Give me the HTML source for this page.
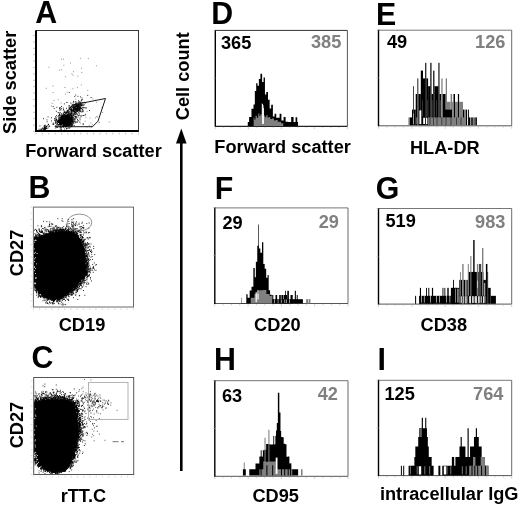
<!DOCTYPE html>
<html><head><meta charset="utf-8"><title>Figure</title>
<style>html,body{margin:0;padding:0;background:#fff}svg{display:block}</style>
</head><body>
<svg width="520" height="506" viewBox="0 0 520 506" font-family="Liberation Sans, Arial, Helvetica, sans-serif" font-weight="bold">
<rect width="520" height="506" fill="#fff"/>
<rect x="36" y="30.5" width="102.5" height="101.0" fill="none" stroke="#222" stroke-width="0.9"/>
<path d="M36 30.5V131.1H138.5" fill="none" stroke="#000" stroke-width="2"/>
<path d="M36.0 132.7v1.8M42.4 132.7v1.8M48.8 132.7v1.8M55.2 132.7v1.8M61.6 132.7v1.8M68.0 132.7v1.8M74.4 132.7v1.8M80.8 132.7v1.8M87.2 132.7v1.8M93.6 132.7v1.8M100.0 132.7v1.8M106.4 132.7v1.8M112.8 132.7v1.8M119.2 132.7v1.8M125.6 132.7v1.8M132.0 132.7v1.8M138.4 132.7v1.8M34.8 131.5h-1.8M34.8 125.1h-1.8M34.8 118.7h-1.8M34.8 112.3h-1.8M34.8 105.9h-1.8M34.8 99.5h-1.8M34.8 93.1h-1.8M34.8 86.7h-1.8M34.8 80.3h-1.8M34.8 73.9h-1.8M34.8 67.5h-1.8M34.8 61.1h-1.8M34.8 54.7h-1.8M34.8 48.3h-1.8M34.8 41.9h-1.8M34.8 35.5h-1.8" stroke="#aaa" stroke-width="0.7"/>
<path d="M81.2 68.3h0.8M87.9 58.7h0.8M77.0 119.6h0.8M64.9 76.7h0.8M78.6 107.9h0.8M61.2 108.5h0.8M48.5 67.2h0.8M83.2 102.7h0.8M92.5 98.9h0.8M85.4 114.2h0.8M65.2 94.1h0.8M60.7 103.0h0.8M76.9 87.6h0.8M64.7 125.8h0.8M86.1 108.1h0.8M59.7 125.1h0.8M75.4 99.1h0.8M72.1 115.2h0.8M72.5 75.1h0.8M52.5 86.1h0.8M68.1 113.0h0.8M72.5 88.8h0.8M64.5 87.5h0.8M53.6 100.5h0.8M63.5 65.3h0.8M57.8 99.7h0.8M73.4 102.1h0.8M80.9 85.0h0.8M73.2 71.7h0.8M73.7 125.8h0.8M67.1 102.4h0.8M71.5 73.9h0.8M45.8 88.3h0.8M70.1 63.1h0.8M79.9 58.4h0.8M62.9 59.2h0.8M77.5 76.1h0.8M51.1 106.1h0.8M69.7 107.6h0.8M66.9 92.2h0.8M74.8 111.8h0.8M70.9 104.1h0.8M95.9 65.8h0.8M51.7 103.4h0.8M61.0 108.6h0.8M70.3 114.0h0.8M61.3 69.8h0.8M61.0 59.1h0.8M52.7 92.5h0.8M58.6 115.3h0.8M87.4 90.3h0.8M59.3 70.2h0.8M102.3 112.6h0.8M81.9 99.9h0.8M65.6 122.8h0.8M78.9 103.2h0.8M81.4 72.6h0.8M83.9 115.6h0.8M96.4 116.5h0.8M76.1 117.2h0.8M86.7 126.9h0.8M98.4 130.1h0.8M69.5 119.9h0.8M79.9 123.2h0.8M86.6 111.4h0.8M96.0 102.3h0.8M83.3 115.5h0.8M75.9 118.0h0.8M91.3 126.1h0.8M89.6 118.1h0.8M88.8 125.4h0.8M82.2 124.1h0.8M94.9 117.8h0.8M98.8 122.1h0.8M68.8 119.0h0.8M90.8 127.2h0.8M82.6 109.0h0.8M81.0 100.1h0.8M85.6 117.3h0.8M98.8 122.9h0.8M82.9 123.8h0.8M80.8 112.4h0.8M69.6 120.2h0.8M82.7 111.8h0.8M84.7 121.2h0.8M73.2 111.2h0.8M81.1 108.9h0.8M90.5 123.0h0.8M101.5 107.7h0.8M81.4 106.1h0.8M108.8 122.0h0.8M96.9 117.1h0.8M95.3 100.2h0.8M92.1 124.7h0.8M86.2 107.8h0.8M77.5 113.3h0.8" stroke="#555" stroke-width="0.8" fill="none"/>
<path d="M71.3 125.1h0.9M63.8 119.5h0.9M65.5 119.2h0.9M66.8 123.3h0.9M62.6 121.1h0.9M65.4 119.6h0.9M65.4 124.7h0.9M59.3 122.6h0.9M69.0 122.6h0.9M67.5 119.3h0.9M63.2 122.1h0.9M64.8 121.8h0.9M67.2 122.7h0.9M64.5 123.7h0.9M64.6 123.6h0.9M60.3 121.4h0.9M67.3 122.5h0.9M65.8 117.9h0.9M66.4 122.4h0.9M60.1 122.7h0.9M71.2 119.6h0.9M65.9 118.8h0.9M64.0 120.7h0.9M72.5 117.5h0.9M65.2 121.7h0.9M60.3 121.7h0.9M64.0 118.5h0.9M57.4 121.2h0.9M69.1 123.3h0.9M63.9 123.5h0.9M62.8 123.4h0.9M69.2 120.3h0.9M59.6 120.2h0.9M67.3 119.8h0.9M58.2 122.5h0.9M63.1 126.8h0.9M61.2 124.5h0.9M70.5 124.6h0.9M71.6 123.9h0.9M64.2 116.8h0.9M68.3 120.2h0.9M64.8 119.7h0.9M67.4 123.8h0.9M62.8 125.1h0.9M59.4 119.4h0.9M59.1 121.1h0.9M66.7 122.1h0.9M73.3 119.3h0.9M66.3 119.2h0.9M63.6 119.2h0.9M72.1 122.8h0.9M66.2 118.5h0.9M65.8 123.6h0.9M66.3 121.0h0.9M64.9 122.7h0.9M64.3 124.7h0.9M60.4 119.3h0.9M67.2 118.7h0.9M65.1 121.9h0.9M69.6 118.1h0.9M64.1 119.0h0.9M58.7 120.8h0.9M65.1 121.2h0.9M71.3 117.5h0.9M64.1 119.9h0.9M62.3 122.4h0.9M61.2 124.3h0.9M61.7 116.0h0.9M64.3 124.1h0.9M61.3 123.1h0.9M70.6 117.9h0.9M64.4 117.2h0.9M65.8 121.8h0.9M70.4 119.6h0.9M70.7 121.0h0.9M64.7 123.0h0.9M66.6 119.8h0.9M68.0 121.1h0.9M64.7 122.0h0.9M59.2 123.2h0.9M67.7 125.1h0.9M68.5 124.9h0.9M66.9 121.3h0.9M62.2 120.3h0.9M64.7 126.7h0.9M63.3 122.5h0.9M64.4 121.9h0.9M69.9 117.9h0.9M70.8 122.5h0.9M67.7 118.8h0.9M67.3 119.6h0.9M67.8 117.4h0.9M65.4 119.5h0.9M65.1 121.0h0.9M63.0 117.2h0.9M65.2 118.6h0.9M73.3 120.3h0.9M68.4 117.6h0.9M64.2 117.7h0.9M63.7 118.8h0.9M62.4 117.4h0.9M66.7 122.3h0.9M66.8 118.3h0.9M60.3 122.9h0.9M67.1 123.0h0.9M63.4 117.9h0.9M70.4 120.7h0.9M65.9 119.6h0.9M71.4 117.8h0.9M63.8 120.0h0.9M64.4 120.2h0.9M66.4 122.5h0.9M69.1 123.2h0.9M67.4 118.0h0.9M61.1 119.9h0.9M66.0 122.1h0.9M65.5 123.7h0.9M63.9 114.8h0.9M63.1 124.1h0.9M71.5 120.2h0.9M64.0 124.7h0.9M62.4 119.9h0.9M67.6 118.7h0.9M65.9 120.9h0.9M65.1 123.7h0.9M68.1 120.8h0.9M67.1 114.9h0.9M66.7 122.5h0.9M68.8 116.7h0.9M66.4 118.3h0.9M63.2 118.0h0.9M64.1 116.3h0.9M63.6 117.7h0.9M66.1 118.3h0.9M61.6 119.4h0.9M59.0 120.9h0.9M65.7 120.0h0.9M60.7 117.3h0.9M58.6 120.6h0.9M66.7 123.2h0.9M62.9 123.3h0.9M67.1 121.1h0.9M63.5 122.4h0.9M61.5 123.2h0.9M61.0 124.4h0.9M63.6 125.1h0.9M64.4 120.0h0.9M62.5 120.2h0.9M64.4 124.5h0.9M60.0 124.9h0.9M65.5 124.6h0.9M59.1 115.2h0.9M64.7 120.3h0.9M67.8 112.6h0.9M69.2 122.5h0.9M71.4 120.7h0.9M60.0 121.1h0.9M68.1 120.4h0.9M69.6 123.9h0.9M68.8 119.9h0.9M62.1 123.5h0.9M66.8 122.1h0.9M71.9 121.5h0.9M60.2 122.1h0.9M67.1 121.0h0.9M69.3 117.9h0.9M63.0 122.7h0.9M67.4 122.5h0.9M61.7 120.6h0.9M62.6 122.7h0.9M62.5 123.1h0.9M66.1 117.6h0.9M65.1 120.5h0.9M68.7 119.6h0.9M62.1 118.7h0.9M64.9 121.6h0.9M68.8 118.6h0.9M67.4 119.6h0.9M60.8 121.6h0.9M67.7 121.6h0.9M63.7 121.7h0.9M66.7 126.3h0.9M66.5 119.5h0.9M69.7 121.3h0.9M65.8 117.8h0.9M58.9 122.2h0.9M60.6 123.9h0.9M68.0 123.7h0.9M64.5 119.2h0.9M69.4 120.0h0.9M66.4 123.9h0.9M62.8 120.7h0.9M69.2 123.1h0.9M62.6 118.5h0.9M58.2 124.5h0.9M72.6 123.1h0.9M58.7 122.2h0.9M67.6 118.7h0.9M68.7 120.3h0.9M65.9 121.2h0.9M59.5 121.7h0.9M69.0 120.4h0.9M60.4 120.4h0.9M60.7 121.4h0.9M64.1 124.3h0.9M68.2 115.7h0.9M66.5 117.3h0.9M68.2 116.8h0.9M63.8 119.1h0.9M64.8 116.5h0.9M61.4 122.3h0.9M64.3 121.1h0.9M67.5 120.1h0.9M64.4 119.1h0.9M67.1 121.1h0.9M63.4 121.3h0.9M63.3 121.7h0.9M65.5 119.0h0.9M64.7 122.4h0.9M67.5 117.1h0.9M66.0 123.9h0.9M71.5 112.9h0.9M64.6 119.3h0.9M64.6 117.8h0.9M61.8 122.9h0.9M65.5 117.1h0.9M67.8 125.3h0.9M62.8 117.0h0.9M65.2 125.9h0.9M67.9 121.8h0.9M65.0 120.9h0.9M63.6 122.0h0.9M68.8 126.2h0.9M65.7 123.0h0.9M66.8 115.2h0.9M69.5 123.6h0.9M69.4 121.2h0.9M64.2 116.8h0.9M63.6 122.8h0.9M66.4 117.7h0.9M64.9 121.3h0.9M58.8 121.6h0.9M69.9 119.0h0.9M65.5 122.4h0.9M68.0 118.2h0.9M61.3 121.4h0.9M69.9 119.3h0.9M63.3 120.4h0.9M65.0 125.6h0.9M60.5 121.3h0.9M64.8 118.1h0.9M64.6 120.5h0.9M64.8 118.9h0.9M66.9 120.8h0.9M65.6 121.2h0.9M68.8 120.9h0.9M63.8 121.1h0.9M61.9 119.6h0.9M65.3 121.9h0.9M67.6 123.4h0.9M69.8 119.1h0.9M68.2 120.6h0.9M59.2 121.2h0.9M66.7 123.9h0.9M70.5 123.3h0.9M65.6 119.0h0.9M63.6 121.0h0.9M66.5 117.0h0.9M63.6 118.5h0.9M67.6 120.8h0.9M65.4 122.4h0.9M70.3 123.0h0.9M67.1 120.0h0.9M62.9 117.5h0.9M67.5 121.7h0.9M68.7 120.3h0.9M63.4 121.9h0.9M63.9 121.3h0.9M57.3 122.9h0.9M68.6 122.3h0.9M63.3 123.0h0.9M58.0 119.9h0.9M59.2 123.5h0.9M64.6 119.6h0.9M68.1 120.9h0.9M65.1 125.5h0.9M67.1 121.6h0.9M61.5 118.0h0.9M60.7 124.7h0.9M68.5 123.2h0.9M67.1 123.6h0.9M65.3 121.3h0.9M69.9 121.5h0.9M62.1 120.3h0.9M63.9 119.1h0.9M69.0 124.5h0.9M71.8 119.7h0.9M65.4 119.6h0.9M71.3 119.5h0.9M63.3 125.5h0.9M66.6 123.0h0.9M64.8 119.9h0.9M59.8 120.9h0.9M66.3 122.0h0.9M68.7 122.9h0.9M64.9 116.8h0.9M65.2 123.1h0.9M70.3 120.1h0.9M61.0 119.2h0.9M60.2 120.0h0.9M63.1 122.9h0.9M61.2 125.3h0.9M70.1 121.0h0.9M66.5 122.2h0.9M62.4 118.9h0.9M63.2 122.1h0.9M75.4 122.5h0.9M63.3 117.2h0.9M62.7 119.6h0.9M66.5 122.7h0.9M67.6 116.3h0.9M66.2 119.8h0.9M62.2 122.4h0.9M61.3 116.7h0.9M67.5 119.7h0.9M65.2 120.9h0.9M59.7 123.2h0.9M69.5 117.5h0.9M68.1 123.5h0.9M64.6 121.6h0.9M64.5 123.8h0.9M66.2 123.7h0.9M63.0 121.7h0.9M60.7 122.2h0.9M66.5 116.4h0.9M60.4 117.6h0.9M66.8 118.2h0.9M60.4 120.1h0.9M65.1 123.1h0.9M64.9 116.4h0.9M71.6 119.8h0.9M61.7 117.6h0.9M60.4 117.1h0.9M63.1 124.6h0.9M61.5 121.2h0.9M63.3 125.0h0.9M66.9 123.7h0.9M68.1 118.4h0.9M71.2 116.0h0.9M62.8 126.1h0.9M74.6 119.5h0.9M72.3 117.7h0.9M64.7 122.6h0.9M57.4 121.4h0.9M65.1 119.1h0.9M65.7 119.9h0.9M57.4 121.5h0.9M65.7 121.0h0.9M64.7 122.7h0.9M62.7 120.0h0.9M67.6 119.9h0.9M68.9 122.2h0.9M63.7 121.6h0.9M66.2 123.5h0.9M63.1 120.3h0.9M62.6 120.7h0.9M65.7 117.9h0.9M67.2 124.5h0.9M63.4 117.4h0.9M57.7 121.6h0.9M67.5 118.5h0.9M59.8 121.8h0.9M65.8 122.6h0.9M71.6 116.5h0.9M65.3 120.3h0.9M61.2 116.6h0.9M60.3 124.5h0.9M69.5 119.5h0.9M65.3 116.9h0.9M67.3 119.0h0.9M68.6 124.0h0.9M65.2 124.5h0.9M64.3 124.0h0.9M62.1 119.0h0.9M54.6 120.8h0.9M60.1 125.1h0.9M65.2 119.0h0.9M64.8 120.0h0.9M66.8 118.4h0.9M65.0 117.9h0.9M66.0 123.8h0.9M68.2 122.3h0.9M62.3 122.0h0.9M64.4 122.3h0.9M59.8 123.6h0.9M68.8 124.4h0.9M65.5 120.8h0.9M67.1 119.9h0.9M70.8 118.1h0.9M69.2 123.4h0.9M65.2 119.5h0.9M68.2 117.0h0.9M60.4 120.3h0.9M66.9 120.8h0.9M65.9 122.9h0.9M59.7 123.5h0.9M70.1 118.8h0.9M62.9 118.9h0.9M67.8 119.9h0.9M63.9 117.8h0.9M68.9 120.4h0.9M70.0 121.8h0.9M62.5 121.0h0.9M60.0 117.0h0.9M64.9 117.8h0.9M68.4 123.9h0.9M64.1 118.3h0.9M63.3 122.7h0.9M67.1 122.3h0.9M55.7 120.3h0.9M63.1 118.4h0.9M60.6 121.5h0.9M66.4 118.6h0.9M62.8 120.5h0.9M61.5 121.2h0.9M64.2 119.1h0.9M60.3 120.4h0.9M65.4 120.0h0.9M63.0 117.8h0.9M64.1 120.4h0.9M62.9 119.3h0.9M68.6 116.1h0.9M65.0 120.0h0.9M67.2 120.0h0.9M67.1 119.2h0.9M62.6 115.8h0.9M67.4 122.7h0.9M66.6 122.5h0.9M66.5 122.4h0.9M64.0 121.7h0.9M63.9 117.7h0.9M68.1 121.0h0.9M73.0 118.2h0.9M62.5 126.4h0.9M67.3 119.4h0.9M64.1 122.5h0.9M68.1 116.8h0.9M66.9 117.8h0.9M69.1 119.3h0.9M55.6 122.9h0.9M63.3 122.2h0.9M61.9 121.6h0.9M65.0 116.2h0.9M62.9 123.7h0.9M63.2 118.6h0.9M67.8 124.7h0.9M72.1 125.2h0.9M55.5 123.2h0.9M64.3 123.3h0.9M66.5 117.6h0.9M65.4 127.2h0.9M64.2 121.4h0.9M60.7 123.5h0.9M62.1 118.8h0.9M67.9 120.5h0.9M69.2 117.7h0.9M65.7 120.2h0.9M62.5 120.9h0.9M65.7 121.4h0.9M64.6 124.3h0.9M67.3 121.9h0.9M65.8 121.4h0.9M63.2 121.0h0.9M66.1 125.8h0.9M61.3 119.5h0.9M68.3 123.7h0.9M69.5 115.8h0.9M61.3 118.8h0.9M66.9 121.8h0.9M61.9 120.5h0.9M69.2 128.2h0.9M68.6 127.1h0.9M64.6 117.0h0.9M68.9 118.0h0.9M63.9 120.5h0.9M63.1 125.2h0.9M63.4 123.7h0.9M64.9 121.6h0.9M64.3 117.3h0.9M65.9 118.7h0.9M63.2 114.2h0.9M68.1 116.9h0.9M69.0 121.7h0.9M63.7 122.8h0.9M60.4 117.7h0.9M67.9 121.0h0.9M69.4 124.7h0.9M64.8 121.2h0.9M60.9 120.2h0.9M66.3 122.3h0.9M70.7 121.9h0.9M58.8 121.2h0.9M67.1 119.4h0.9M64.3 119.8h0.9M62.4 121.1h0.9M67.1 119.4h0.9M60.9 124.3h0.9M66.4 123.0h0.9M70.0 123.4h0.9M66.0 125.9h0.9M62.3 124.9h0.9M59.2 124.6h0.9M60.9 121.9h0.9M59.0 120.6h0.9M71.0 126.4h0.9M64.5 119.2h0.9M61.7 119.4h0.9M60.9 118.8h0.9M61.7 121.5h0.9M64.2 121.9h0.9M60.9 123.5h0.9M71.3 120.0h0.9M62.8 116.6h0.9M62.7 121.7h0.9M66.5 123.2h0.9M70.5 120.7h0.9M70.0 120.3h0.9M63.7 122.3h0.9M66.3 124.4h0.9M65.9 120.6h0.9M67.3 117.2h0.9M66.3 119.4h0.9M62.1 120.5h0.9M61.0 116.5h0.9M66.0 122.7h0.9M61.3 119.0h0.9M70.2 121.9h0.9M65.5 121.3h0.9M61.8 120.2h0.9M64.3 124.9h0.9M63.6 119.5h0.9M64.9 119.1h0.9M68.7 121.4h0.9M60.3 123.1h0.9M58.9 121.0h0.9M66.6 118.3h0.9M64.8 122.6h0.9M66.0 122.3h0.9M67.0 125.9h0.9M64.8 120.3h0.9M68.2 121.2h0.9M62.3 119.5h0.9M65.6 117.1h0.9M62.5 121.1h0.9M61.4 123.1h0.9M67.6 118.2h0.9M67.4 119.0h0.9M58.6 118.1h0.9M61.5 124.3h0.9M66.4 119.2h0.9M69.1 122.1h0.9M63.1 118.7h0.9M64.8 121.0h0.9M60.5 119.4h0.9M74.2 114.6h0.9M67.1 120.9h0.9M68.5 122.0h0.9M67.7 115.5h0.9M68.7 120.2h0.9M67.5 119.6h0.9M64.2 118.1h0.9M68.0 120.1h0.9M65.7 115.9h0.9M69.9 121.3h0.9M62.8 123.9h0.9M63.5 117.7h0.9M67.7 120.6h0.9M69.9 124.2h0.9M65.9 121.1h0.9M62.9 119.6h0.9M65.0 118.5h0.9M63.7 121.3h0.9M72.0 120.2h0.9M68.5 122.3h0.9M69.8 116.8h0.9M66.5 123.5h0.9M63.5 119.9h0.9M69.5 122.3h0.9M71.2 118.8h0.9M67.4 117.5h0.9M65.3 119.4h0.9M69.2 118.3h0.9M64.1 119.9h0.9M68.1 122.3h0.9M62.9 123.6h0.9M62.0 121.4h0.9M67.4 119.4h0.9M66.6 119.6h0.9M72.1 122.0h0.9M64.4 123.7h0.9M65.5 120.0h0.9M61.4 120.6h0.9M58.9 119.2h0.9M59.2 121.5h0.9M67.0 123.1h0.9M61.3 113.7h0.9M69.3 121.3h0.9M70.4 119.2h0.9M64.4 115.0h0.9M71.2 121.4h0.9M66.2 120.5h0.9M69.3 121.6h0.9M64.6 117.4h0.9M68.8 126.0h0.9M62.1 121.2h0.9M67.6 119.9h0.9M63.8 124.7h0.9M64.9 122.4h0.9M67.6 122.8h0.9M66.0 123.7h0.9M65.1 115.6h0.9M67.9 124.9h0.9M68.2 119.8h0.9M60.6 121.7h0.9M67.4 123.0h0.9M67.7 118.9h0.9M62.8 121.7h0.9M66.8 122.7h0.9M60.8 120.9h0.9M70.4 121.9h0.9M64.6 116.8h0.9M65.1 117.8h0.9M69.6 117.8h0.9M64.9 121.7h0.9M61.7 121.6h0.9M63.4 120.5h0.9M60.5 120.8h0.9M64.7 123.3h0.9M69.0 122.5h0.9M66.2 117.9h0.9M68.5 123.2h0.9M61.8 120.9h0.9M62.3 123.0h0.9M63.8 115.9h0.9M67.4 116.8h0.9M66.6 122.2h0.9M65.3 116.3h0.9M67.6 121.7h0.9M64.9 121.7h0.9M65.3 121.2h0.9M70.0 121.5h0.9M63.3 121.5h0.9M66.0 121.9h0.9M71.0 119.6h0.9M65.8 120.7h0.9M67.9 128.0h0.9M63.3 123.7h0.9M72.2 122.1h0.9M57.5 122.1h0.9M61.4 119.1h0.9M61.7 121.5h0.9M71.1 120.0h0.9M66.6 123.1h0.9M64.5 118.5h0.9M60.9 115.1h0.9M66.7 119.4h0.9M65.8 122.5h0.9M63.0 127.0h0.9M60.2 123.5h0.9M61.5 118.5h0.9M66.1 120.2h0.9M66.5 118.4h0.9M65.7 120.3h0.9M64.9 118.6h0.9M59.2 116.9h0.9M65.6 121.9h0.9M61.8 121.4h0.9M65.5 120.4h0.9M67.0 121.6h0.9M63.0 126.0h0.9M61.8 121.2h0.9M68.9 119.7h0.9M66.6 122.9h0.9M63.2 116.8h0.9M54.9 123.1h0.9M65.2 118.9h0.9M67.6 118.7h0.9M69.3 120.9h0.9M63.0 125.1h0.9M63.1 119.0h0.9M63.8 123.2h0.9M68.3 121.6h0.9M61.3 117.5h0.9M65.0 123.1h0.9M62.2 118.9h0.9M66.3 117.1h0.9M60.0 119.0h0.9M66.7 118.9h0.9M63.7 122.3h0.9M64.6 119.0h0.9M67.2 124.5h0.9M69.4 121.2h0.9M59.5 119.2h0.9M68.9 118.6h0.9M67.4 121.3h0.9M64.4 115.8h0.9M70.3 115.2h0.9M66.1 118.6h0.9M69.9 122.2h0.9M63.3 121.3h0.9M62.4 121.0h0.9M69.7 120.1h0.9M73.0 115.1h0.9M67.6 119.9h0.9M68.5 116.3h0.9M63.7 122.9h0.9M60.8 120.9h0.9M64.6 120.6h0.9M70.7 121.6h0.9M58.9 121.8h0.9M63.7 121.4h0.9M58.7 121.9h0.9M65.8 119.3h0.9M68.5 117.4h0.9M61.1 121.8h0.9M64.0 124.5h0.9M70.0 123.2h0.9M65.1 120.3h0.9M61.1 122.5h0.9M60.8 119.9h0.9M58.3 122.0h0.9M68.1 119.2h0.9M62.8 121.2h0.9M69.1 125.7h0.9M68.4 122.6h0.9M63.1 124.6h0.9M63.6 118.9h0.9M68.1 119.0h0.9M65.9 120.7h0.9M66.3 122.2h0.9M59.6 120.5h0.9M68.5 123.2h0.9M62.3 119.5h0.9M57.5 124.5h0.9M63.2 123.3h0.9M66.9 118.0h0.9M72.7 122.0h0.9M64.1 120.3h0.9M60.7 123.5h0.9M72.8 119.2h0.9M66.0 121.6h0.9M64.5 122.2h0.9M61.6 114.1h0.9M61.9 116.2h0.9M70.6 120.9h0.9M64.5 120.5h0.9M63.5 123.4h0.9M63.6 121.4h0.9M70.9 117.4h0.9M63.3 121.7h0.9M67.6 118.8h0.9M66.3 120.2h0.9M66.2 119.5h0.9M62.3 121.8h0.9M67.7 117.2h0.9M71.0 117.8h0.9M65.2 115.3h0.9M62.2 126.3h0.9M60.9 118.5h0.9M66.1 118.6h0.9M64.4 118.0h0.9M65.0 119.2h0.9M65.4 119.7h0.9M60.2 122.5h0.9M68.1 121.1h0.9M66.2 121.6h0.9M65.1 119.3h0.9M66.2 120.6h0.9M68.6 123.7h0.9M65.6 120.7h0.9M62.4 121.7h0.9M69.5 115.6h0.9M63.9 122.1h0.9M62.9 121.5h0.9M59.9 124.2h0.9M65.4 113.9h0.9M61.7 121.0h0.9M63.6 120.5h0.9M67.0 120.9h0.9M65.5 119.2h0.9M69.0 121.2h0.9M66.5 122.5h0.9M64.0 120.9h0.9M64.2 120.1h0.9M63.6 120.3h0.9M67.7 119.7h0.9M65.5 120.9h0.9M64.0 119.0h0.9M68.4 115.7h0.9M65.7 124.1h0.9M63.8 116.4h0.9M60.1 120.6h0.9M66.9 117.4h0.9M66.2 120.0h0.9M65.6 118.3h0.9M63.9 120.7h0.9M62.5 118.7h0.9M64.6 117.5h0.9M66.2 121.5h0.9M65.0 124.1h0.9M64.9 121.6h0.9M63.8 121.1h0.9M66.6 118.0h0.9M66.2 120.5h0.9M62.8 121.9h0.9M68.1 119.0h0.9M68.2 122.9h0.9M68.2 120.5h0.9M64.9 121.6h0.9M64.7 119.5h0.9M61.3 119.6h0.9M68.0 121.2h0.9M57.9 121.9h0.9M64.0 121.6h0.9M64.2 118.2h0.9M68.4 118.8h0.9M65.4 120.6h0.9M62.0 116.2h0.9M60.4 123.5h0.9M62.8 121.6h0.9M65.8 120.8h0.9M65.6 118.9h0.9M64.7 122.8h0.9M63.0 120.1h0.9M64.7 125.4h0.9M68.9 121.5h0.9M61.5 117.1h0.9M65.5 122.5h0.9M71.1 119.2h0.9M67.3 119.3h0.9M63.8 120.1h0.9M67.7 120.3h0.9M62.8 121.4h0.9M65.4 122.6h0.9M70.8 121.6h0.9M72.0 118.6h0.9M59.4 117.5h0.9M67.9 118.6h0.9M72.2 121.3h0.9M63.5 122.9h0.9M66.3 125.1h0.9M70.7 117.1h0.9M63.7 120.9h0.9M67.0 120.0h0.9M65.2 119.7h0.9M58.7 121.2h0.9M66.6 120.0h0.9M64.8 120.0h0.9M68.6 118.9h0.9M72.7 121.4h0.9M67.8 123.2h0.9M64.1 124.8h0.9M67.0 119.3h0.9M66.1 118.0h0.9M69.0 119.9h0.9M60.4 118.7h0.9M61.3 123.4h0.9M58.2 118.9h0.9M67.5 120.8h0.9M65.3 117.3h0.9M63.2 119.9h0.9M62.9 121.2h0.9M63.4 124.5h0.9M62.2 119.0h0.9M64.3 121.6h0.9M63.7 115.5h0.9M70.3 117.5h0.9M66.5 118.6h0.9M62.5 119.5h0.9M63.4 121.8h0.9M69.6 122.1h0.9M67.0 116.6h0.9M66.4 121.9h0.9M67.9 117.8h0.9M71.0 125.0h0.9M61.1 121.6h0.9M62.8 121.1h0.9M59.3 120.4h0.9M67.1 120.5h0.9M64.1 120.7h0.9M63.0 119.0h0.9M62.7 122.6h0.9M67.8 121.2h0.9M64.9 122.5h0.9M63.5 120.6h0.9M69.8 122.2h0.9M61.7 118.9h0.9M61.0 129.7h0.9M74.5 118.5h0.9M64.1 119.6h0.9M63.5 123.1h0.9M62.9 123.8h0.9M64.9 118.7h0.9M68.1 116.4h0.9M68.0 117.1h0.9M67.3 118.1h0.9M64.4 118.7h0.9M60.2 120.4h0.9M66.4 123.2h0.9M70.7 123.1h0.9M69.1 119.0h0.9M64.8 122.0h0.9M68.2 122.7h0.9M64.1 124.2h0.9M65.2 120.2h0.9M61.1 118.9h0.9M64.3 122.5h0.9M65.9 124.4h0.9M64.8 119.3h0.9M68.1 125.4h0.9M72.0 124.7h0.9M70.0 119.8h0.9M64.3 116.8h0.9M62.8 119.2h0.9M63.1 119.8h0.9M62.0 122.1h0.9M65.5 116.5h0.9M66.9 126.6h0.9M66.0 126.5h0.9M66.1 118.8h0.9M66.0 116.0h0.9M64.9 120.2h0.9M62.8 121.8h0.9M71.4 123.8h0.9M69.1 122.3h0.9M62.2 120.2h0.9M62.2 115.8h0.9M63.3 122.0h0.9M65.5 122.7h0.9M69.8 119.7h0.9M69.0 121.2h0.9M69.1 121.0h0.9M69.2 119.9h0.9M69.3 117.6h0.9M68.0 121.4h0.9M67.0 117.0h0.9M65.0 124.1h0.9M59.3 118.6h0.9M64.9 121.9h0.9M60.7 124.5h0.9M67.3 117.9h0.9M63.8 122.5h0.9M68.3 119.8h0.9M60.3 124.1h0.9M55.3 122.0h0.9M63.4 112.4h0.9M63.0 123.2h0.9M56.0 119.6h0.9M60.9 124.2h0.9M55.0 122.0h0.9M65.7 125.7h0.9M62.8 119.3h0.9M65.1 112.2h0.9M80.7 116.9h0.9M66.0 122.1h0.9M67.3 118.6h0.9M68.8 117.9h0.9M64.2 126.1h0.9M61.5 120.1h0.9M70.3 123.6h0.9M71.2 120.0h0.9M47.6 116.9h0.9M64.1 116.7h0.9M63.0 119.3h0.9M61.7 121.9h0.9M72.5 116.0h0.9M61.8 115.1h0.9M70.2 115.6h0.9M61.8 118.6h0.9M62.6 117.1h0.9M69.4 117.3h0.9M60.6 128.1h0.9M64.1 121.4h0.9M58.4 117.9h0.9M59.7 120.9h0.9M69.4 125.8h0.9M68.5 122.3h0.9M58.2 120.7h0.9M57.9 115.8h0.9M80.3 111.5h0.9M61.2 119.4h0.9M59.8 120.5h0.9M68.1 113.4h0.9M60.4 115.6h0.9M62.8 120.3h0.9M70.4 110.8h0.9M71.0 112.6h0.9M63.8 120.2h0.9M73.1 121.3h0.9M64.2 121.6h0.9M63.6 124.3h0.9M65.0 126.4h0.9M63.2 124.0h0.9M68.2 118.7h0.9M66.7 128.3h0.9M60.4 127.4h0.9M66.1 123.8h0.9M61.8 117.5h0.9M61.6 122.3h0.9M64.2 112.1h0.9M71.1 118.1h0.9M66.7 110.2h0.9M72.6 117.6h0.9M74.4 123.0h0.9M64.8 120.3h0.9M61.4 127.1h0.9M60.3 120.9h0.9M66.7 120.4h0.9M70.2 118.4h0.9M74.5 121.1h0.9M57.2 121.2h0.9M70.6 124.2h0.9M71.5 125.7h0.9M79.6 119.8h0.9M66.2 115.7h0.9M64.8 122.5h0.9M55.9 126.8h0.9M60.4 123.5h0.9M58.4 122.3h0.9M59.0 124.8h0.9M59.7 126.2h0.9M55.9 111.3h0.9M64.5 126.3h0.9M67.4 123.0h0.9M69.6 121.6h0.9M64.5 118.2h0.9M71.4 120.3h0.9M71.5 121.8h0.9M56.0 115.7h0.9M63.4 123.4h0.9M57.6 121.6h0.9M59.2 126.8h0.9M66.2 122.8h0.9M64.3 119.7h0.9M73.9 119.3h0.9M77.4 121.2h0.9M67.6 120.5h0.9M64.0 122.6h0.9M64.2 117.6h0.9M65.0 115.4h0.9M68.6 117.6h0.9M60.7 115.3h0.9M68.6 116.8h0.9M63.7 121.9h0.9M71.5 113.0h0.9M73.3 114.4h0.9M75.6 121.8h0.9M64.2 118.3h0.9M57.0 121.3h0.9M55.0 116.8h0.9M63.4 116.4h0.9M56.7 120.2h0.9M55.3 128.0h0.9M63.0 122.3h0.9M59.3 114.5h0.9M69.3 121.5h0.9M76.8 122.3h0.9M63.8 123.2h0.9M67.1 115.2h0.9M55.7 121.3h0.9M66.3 128.5h0.9M61.0 117.2h0.9M58.6 122.5h0.9M54.0 118.8h0.9M74.8 114.0h0.9M55.5 119.9h0.9M58.0 125.3h0.9M65.3 124.8h0.9M66.9 116.6h0.9M67.0 118.2h0.9M65.9 116.7h0.9M59.9 112.8h0.9M69.8 122.0h0.9M66.4 126.2h0.9M56.5 127.3h0.9M74.9 117.2h0.9M63.2 125.8h0.9M70.9 123.8h0.9M56.5 120.1h0.9M58.1 121.2h0.9M61.8 119.3h0.9M61.1 121.8h0.9M71.3 126.6h0.9M55.5 118.0h0.9M66.3 115.5h0.9M59.2 124.5h0.9M68.4 120.1h0.9M66.5 112.7h0.9M62.0 116.8h0.9M78.6 115.3h0.9M65.0 118.0h0.9M71.9 120.7h0.9M57.3 125.3h0.9M64.5 119.8h0.9M65.8 120.8h0.9M66.1 117.3h0.9M63.2 124.6h0.9M60.3 126.2h0.9M46.7 121.8h0.9M61.9 117.9h0.9M59.8 129.2h0.9M63.8 124.2h0.9M70.5 116.1h0.9M78.6 111.9h0.9M68.5 118.8h0.9M71.4 124.2h0.9M69.1 117.7h0.9M69.7 118.8h0.9M68.9 117.9h0.9M63.8 123.1h0.9M63.4 126.1h0.9M67.4 115.1h0.9M76.2 117.8h0.9M70.1 118.9h0.9M75.1 116.6h0.9M57.6 116.7h0.9M67.0 123.3h0.9M67.8 120.6h0.9M68.5 122.7h0.9M57.2 127.4h0.9M54.4 120.4h0.9M52.7 124.2h0.9M63.0 119.1h0.9M79.5 118.1h0.9M66.7 121.5h0.9M58.2 120.7h0.9M67.5 114.2h0.9M63.6 126.5h0.9M66.5 120.8h0.9M62.7 116.2h0.9M57.7 112.7h0.9M62.3 120.7h0.9M69.8 122.3h0.9M67.3 124.1h0.9M72.8 123.8h0.9M59.1 119.7h0.9M71.8 122.0h0.9M65.9 114.2h0.9M66.7 120.8h0.9M73.0 122.9h0.9M64.8 118.1h0.9M67.1 119.5h0.9M69.4 120.2h0.9M69.5 120.4h0.9M70.5 125.5h0.9M73.4 115.1h0.9M68.8 125.2h0.9M63.0 115.8h0.9M80.3 115.8h0.9M65.5 117.3h0.9M67.9 119.7h0.9M61.2 119.0h0.9M52.6 124.0h0.9M61.0 121.0h0.9M66.1 128.9h0.9M68.9 121.4h0.9M65.9 119.3h0.9M70.5 121.2h0.9M71.7 121.9h0.9M71.6 118.8h0.9M65.7 116.0h0.9M66.2 117.1h0.9M64.4 121.2h0.9M60.5 124.3h0.9M74.3 121.1h0.9M58.3 121.0h0.9M65.3 122.6h0.9M67.1 118.2h0.9M52.9 123.1h0.9M70.2 125.3h0.9M63.6 125.0h0.9M67.1 125.5h0.9M63.8 119.1h0.9M56.5 122.3h0.9M66.9 116.2h0.9M66.4 123.8h0.9M71.7 117.8h0.9M68.6 114.8h0.9M55.7 119.7h0.9M72.4 120.4h0.9M70.5 111.0h0.9M70.4 114.1h0.9M68.7 123.8h0.9M61.5 121.2h0.9M69.0 119.7h0.9M63.6 114.3h0.9M83.0 124.2h0.9M64.3 124.5h0.9M59.1 123.9h0.9M63.7 116.2h0.9M74.4 121.4h0.9M62.3 125.2h0.9M51.1 121.0h0.9M74.6 118.1h0.9M67.7 118.2h0.9M62.8 123.0h0.9M70.0 118.8h0.9M60.2 119.8h0.9M58.7 115.5h0.9M70.1 114.7h0.9M79.0 108.3h0.9M81.1 104.9h0.9M78.7 108.4h0.9M80.6 101.9h0.9M73.9 113.4h0.9M75.6 109.4h0.9M77.0 109.5h0.9M75.2 109.2h0.9M81.5 105.4h0.9M71.3 109.4h0.9M73.8 107.3h0.9M74.6 107.7h0.9M73.4 110.0h0.9M78.6 105.2h0.9M69.0 114.1h0.9M79.6 105.3h0.9M78.8 109.9h0.9M76.8 106.9h0.9M80.5 104.6h0.9M83.8 107.8h0.9M76.4 108.9h0.9M78.3 107.5h0.9M77.1 108.2h0.9M77.6 106.7h0.9M74.1 110.0h0.9M73.3 108.0h0.9M77.9 108.1h0.9M74.0 111.6h0.9M79.0 104.7h0.9M78.5 106.6h0.9M74.3 107.2h0.9M77.1 106.3h0.9M76.1 105.2h0.9M75.4 107.9h0.9M79.7 108.0h0.9M76.0 108.2h0.9M76.6 104.5h0.9M69.2 111.5h0.9M77.9 109.7h0.9M70.9 109.7h0.9M74.5 106.4h0.9M81.3 105.2h0.9M81.9 111.7h0.9M74.5 112.8h0.9M71.6 110.5h0.9M77.2 106.0h0.9M74.5 111.7h0.9M77.0 108.6h0.9M71.3 113.4h0.9M79.7 106.2h0.9M81.1 108.4h0.9M70.9 109.0h0.9M73.2 110.8h0.9M73.5 107.5h0.9M78.3 110.1h0.9M69.2 109.0h0.9M76.6 106.2h0.9M75.1 109.9h0.9M73.2 109.6h0.9M78.2 102.9h0.9M69.2 109.8h0.9M71.2 109.7h0.9M73.2 109.5h0.9M78.3 112.7h0.9M74.7 107.2h0.9M73.0 109.0h0.9M77.5 104.0h0.9M74.2 105.3h0.9M73.7 107.5h0.9M74.8 108.3h0.9M77.0 107.7h0.9M85.0 107.9h0.9M72.2 111.0h0.9M76.8 110.6h0.9M75.4 108.1h0.9M75.0 109.8h0.9M81.1 105.6h0.9M78.5 108.7h0.9M78.2 109.1h0.9M74.4 107.6h0.9M73.0 101.4h0.9M76.9 106.6h0.9M74.9 114.7h0.9M74.0 108.6h0.9M78.2 106.4h0.9M71.8 109.6h0.9M73.5 111.6h0.9M78.6 108.6h0.9M75.7 108.0h0.9M78.2 104.8h0.9M73.0 108.3h0.9M78.3 105.0h0.9M73.5 109.8h0.9M80.6 111.0h0.9M78.6 110.3h0.9M77.5 106.6h0.9M81.2 104.9h0.9M77.2 104.8h0.9M73.8 109.9h0.9M81.2 108.6h0.9M77.2 110.0h0.9M80.1 108.3h0.9M76.5 105.4h0.9M79.9 102.9h0.9M73.1 111.7h0.9M71.7 107.3h0.9M71.2 113.9h0.9M78.6 102.8h0.9M69.3 107.2h0.9M70.0 107.5h0.9M71.2 110.0h0.9M76.8 109.8h0.9M77.5 106.7h0.9M73.2 110.4h0.9M78.7 104.7h0.9M77.1 106.9h0.9M80.1 104.6h0.9M79.2 106.3h0.9M73.7 107.3h0.9M76.7 108.9h0.9M75.5 116.7h0.9M77.6 104.7h0.9M76.7 107.7h0.9M76.1 109.9h0.9M78.5 108.0h0.9M76.3 111.7h0.9M78.5 105.3h0.9M76.2 110.1h0.9M75.5 106.6h0.9M79.2 109.6h0.9M79.3 108.0h0.9M80.3 108.0h0.9M78.2 106.5h0.9M75.3 104.1h0.9M76.7 105.6h0.9M76.6 109.9h0.9M70.1 109.0h0.9M72.2 110.9h0.9M81.2 104.0h0.9M75.9 109.9h0.9M66.4 112.9h0.9M75.7 103.2h0.9M76.6 109.0h0.9M71.9 113.9h0.9M83.8 104.8h0.9M79.9 109.9h0.9M78.8 107.8h0.9M75.4 110.5h0.9M77.7 107.1h0.9M78.9 105.9h0.9M77.7 107.0h0.9M73.8 108.0h0.9M76.7 106.8h0.9M76.5 106.1h0.9M77.0 110.8h0.9M72.5 107.7h0.9M76.9 105.3h0.9M76.0 106.1h0.9M76.8 109.3h0.9M76.7 102.9h0.9M71.1 110.6h0.9M78.9 109.4h0.9M78.5 110.8h0.9M71.5 108.3h0.9M75.7 106.5h0.9M73.1 109.4h0.9M74.5 109.0h0.9M79.4 110.7h0.9M77.8 108.1h0.9M72.4 105.1h0.9M67.0 112.8h0.9M73.7 108.3h0.9M75.4 108.9h0.9M82.0 110.8h0.9M75.6 106.3h0.9M83.0 111.0h0.9M82.4 105.6h0.9M70.4 109.3h0.9M68.1 116.3h0.9M71.2 111.7h0.9M73.6 107.7h0.9M70.1 109.9h0.9M79.2 108.6h0.9M79.0 101.8h0.9M82.2 109.5h0.9M76.7 108.5h0.9M72.4 104.4h0.9M77.4 104.4h0.9M69.5 114.2h0.9M75.9 103.5h0.9M70.4 119.2h0.9M81.9 102.5h0.9M59.0 114.6h0.9M80.1 96.9h0.9M80.3 107.1h0.9M74.7 106.9h0.9M77.0 110.3h0.9M76.2 109.4h0.9M82.8 105.2h0.9M84.9 114.8h0.9M75.1 112.1h0.9M84.8 103.0h0.9M71.1 111.5h0.9M77.5 96.3h0.9M77.6 105.7h0.9M67.4 116.3h0.9M77.0 106.0h0.9M71.0 110.7h0.9M79.8 102.7h0.9M69.7 113.7h0.9M64.4 112.5h0.9M67.2 111.2h0.9M75.1 112.7h0.9M76.9 115.0h0.9M77.0 111.5h0.9M70.4 103.1h0.9M79.7 109.0h0.9M71.7 110.9h0.9M73.7 104.5h0.9M80.9 100.4h0.9M74.0 107.4h0.9M63.7 110.9h0.9M79.3 107.2h0.9M75.0 105.8h0.9M72.7 110.1h0.9M82.7 107.7h0.9M71.2 108.7h0.9M78.9 109.2h0.9M75.8 106.1h0.9M90.6 97.6h0.9M64.2 112.0h0.9M76.2 112.0h0.9M77.1 119.3h0.9M81.6 98.0h0.9M72.5 107.4h0.9M71.2 106.3h0.9M83.3 107.4h0.9M72.4 105.9h0.9M76.7 108.8h0.9M74.7 112.9h0.9M77.3 105.0h0.9M66.9 110.9h0.9M71.7 116.4h0.9M74.7 112.5h0.9M75.6 101.9h0.9M81.6 115.4h0.9M78.0 105.1h0.9M78.4 109.0h0.9M74.6 107.2h0.9M82.5 104.6h0.9M71.3 107.0h0.9M74.4 111.5h0.9M66.1 108.3h0.9M68.7 105.5h0.9M80.1 104.9h0.9M74.7 108.9h0.9M63.9 103.9h0.9M74.7 112.2h0.9M73.6 106.3h0.9M73.2 113.3h0.9M75.8 113.1h0.9M71.6 115.0h0.9M72.4 112.0h0.9M68.5 114.5h0.9M67.6 111.1h0.9M62.7 116.5h0.9M69.5 113.8h0.9M68.1 111.9h0.9M60.8 119.3h0.9M71.4 117.0h0.9M76.4 109.5h0.9M71.9 110.5h0.9M75.0 109.2h0.9M69.2 115.1h0.9M66.3 121.0h0.9M70.6 114.4h0.9M68.9 114.9h0.9M65.8 112.9h0.9M74.5 112.8h0.9M71.0 115.4h0.9M67.7 114.3h0.9M71.1 113.5h0.9M69.7 112.5h0.9M72.8 114.8h0.9M76.7 114.4h0.9M67.9 116.4h0.9M65.6 118.0h0.9M75.9 111.3h0.9M79.9 107.2h0.9M67.9 113.1h0.9M66.7 114.8h0.9M65.6 116.9h0.9M70.3 114.0h0.9M70.8 116.6h0.9M69.3 116.6h0.9M73.7 116.4h0.9M67.1 117.9h0.9M68.0 114.6h0.9M65.3 116.9h0.9M75.9 106.6h0.9M74.7 116.4h0.9M75.6 109.7h0.9M67.0 114.7h0.9M75.7 116.3h0.9M59.1 108.0h0.9M63.7 116.7h0.9M69.2 112.8h0.9M64.1 118.2h0.9M70.8 110.1h0.9M72.3 105.9h0.9M76.2 109.4h0.9M68.8 92.6h0.9M76.8 111.1h0.9M66.6 122.9h0.9M76.0 113.7h0.9M81.6 99.5h0.9M52.7 106.6h0.9M67.7 123.2h0.9M71.7 107.1h0.9M51.1 117.8h0.9M39.5 125.9h0.9M73.0 105.9h0.9M63.5 114.7h0.9M77.7 120.6h0.9M69.8 107.9h0.9M69.8 127.1h0.9M66.4 116.3h0.9M70.9 113.9h0.9M60.9 123.0h0.9M64.8 121.2h0.9M77.7 117.0h0.9M67.4 117.3h0.9M74.9 105.2h0.9M69.8 124.8h0.9M66.5 112.0h0.9M60.3 109.1h0.9M78.3 115.6h0.9M61.6 120.3h0.9M73.6 110.1h0.9M54.4 118.7h0.9M72.6 115.4h0.9M73.7 125.6h0.9M63.5 113.8h0.9M53.8 108.4h0.9M68.3 108.0h0.9M70.9 115.5h0.9M64.7 112.4h0.9M63.2 109.3h0.9M78.9 114.0h0.9M68.8 118.2h0.9M65.8 111.9h0.9M78.3 110.7h0.9M69.7 106.9h0.9M62.9 109.8h0.9M78.5 105.6h0.9M66.3 102.5h0.9M79.1 110.8h0.9M63.2 113.9h0.9M73.1 106.5h0.9M82.2 107.7h0.9M74.4 111.0h0.9M74.9 103.8h0.9M74.3 105.2h0.9M78.4 102.0h0.9M70.7 122.1h0.9M74.3 96.6h0.9M67.6 111.9h0.9M89.0 110.5h0.9M61.2 106.5h0.9M78.1 100.7h0.9M60.2 107.7h0.9M75.2 95.0h0.9M82.9 115.5h0.9M59.1 113.8h0.9M87.3 95.4h0.9M60.4 110.0h0.9M61.8 115.7h0.9M73.1 107.1h0.9M59.0 108.3h0.9M79.6 111.0h0.9M74.8 101.9h0.9M43.0 118.7h0.9M55.8 118.0h0.9M62.8 108.0h0.9M74.0 109.8h0.9M59.3 110.0h0.9M76.0 105.1h0.9M60.1 120.2h0.9M72.8 102.8h0.9M56.4 107.3h0.9M79.7 105.8h0.9M83.9 102.3h0.9M58.5 112.6h0.9M46.5 119.9h0.9M53.2 124.5h0.9M79.3 122.1h0.9M64.2 129.0h0.9M80.2 107.0h0.9M60.5 127.9h0.9M68.6 106.1h0.9M80.3 102.5h0.9M67.6 110.6h0.9M49.2 126.5h0.9M44.2 129.2h0.9M43.9 128.8h0.9M47.8 127.0h0.9M44.1 129.8h0.9M44.1 128.0h0.9M45.9 128.7h0.9M44.9 127.1h0.9M38.7 129.3h0.9M41.5 129.0h0.9M46.1 126.3h0.9M41.1 129.8h0.9M47.4 128.3h0.9M44.3 128.1h0.9M45.1 128.5h0.9M45.1 129.8h0.9M42.8 128.5h0.9M42.0 128.0h0.9M45.0 129.9h0.9M48.1 124.5h0.9M43.9 125.6h0.9M44.6 125.1h0.9M43.6 126.2h0.9M43.9 127.6h0.9M44.0 127.6h0.9M45.9 128.5h0.9M47.8 124.3h0.9M44.4 127.7h0.9M45.4 127.5h0.9M45.9 126.6h0.9M44.6 127.9h0.9M40.3 129.3h0.9M45.3 128.5h0.9M42.9 129.5h0.9M46.9 125.9h0.9M45.6 127.7h0.9M44.7 125.7h0.9M48.6 125.6h0.9M44.1 126.7h0.9M43.7 127.4h0.9M44.6 128.8h0.9M42.5 128.8h0.9M45.9 126.7h0.9M45.5 126.7h0.9M43.3 129.1h0.9M40.8 129.2h0.9" stroke="#000" stroke-width="0.9" fill="none"/>
<path d="M55 126.7L72.5 105L105.5 98.5L98 121.2L92.5 126.7Z" fill="none" stroke="#000" stroke-width="0.9"/>
<path d="M33.7 237.5C35.6 237.1 41.5 235.9 45.0 235.0C48.5 234.1 51.8 232.9 55.0 232.3C58.2 231.7 60.9 231.1 64.0 231.2C67.1 231.3 70.7 230.7 73.8 232.8C76.8 234.9 80.5 238.8 82.5 243.8C84.5 248.7 85.0 257.7 85.6 262.5C86.2 267.3 86.9 269.3 86.0 272.5C85.1 275.7 83.1 278.3 80.0 281.8C76.9 285.3 71.7 290.8 67.5 293.8C63.3 296.7 59.2 299.1 55.0 299.4C50.8 299.7 46.0 297.9 42.5 295.5C39.0 293.1 35.2 286.8 33.8 285.0Z" fill="#000"/>
<path d="M75.1 287.6h0.9M83.4 256.0h0.9M59.9 296.8h0.9M42.1 294.8h0.9M48.5 297.1h0.9M75.2 286.2h0.9M84.1 277.0h0.9M42.9 295.8h0.9M53.8 299.0h0.9M86.4 266.5h0.9M67.7 229.6h0.9M43.0 234.9h0.9M87.3 268.7h0.9M61.8 231.6h0.9M55.0 299.4h0.9M82.4 242.7h0.9M83.3 251.1h0.9M37.6 289.2h0.9M87.2 263.2h0.9M67.5 294.2h0.9M61.1 297.7h0.9M85.7 272.0h0.9M84.9 261.5h0.9M86.7 267.8h0.9M76.1 232.6h0.9M34.9 236.9h0.9M41.4 235.6h0.9M63.6 295.0h0.9M64.6 295.0h0.9M65.6 230.8h0.9M77.0 283.6h0.9M86.5 264.0h0.9M84.3 256.1h0.9M59.0 232.3h0.9M36.9 235.3h0.9M85.8 275.0h0.9M58.0 230.9h0.9M79.7 281.6h0.9M59.5 231.7h0.9M65.8 228.3h0.9M80.7 281.9h0.9M68.9 232.3h0.9M63.0 296.0h0.9M67.1 294.0h0.9M47.2 298.4h0.9M85.5 269.1h0.9M70.7 231.5h0.9M73.2 289.4h0.9M53.8 233.9h0.9M76.7 236.7h0.9M80.9 240.1h0.9M77.1 285.9h0.9M46.4 233.2h0.9M86.3 267.5h0.9M59.9 229.7h0.9M85.9 271.8h0.9M53.0 299.2h0.9M53.9 230.4h0.9M80.0 283.7h0.9M39.2 294.0h0.9M35.9 235.9h0.9M75.8 286.8h0.9M82.3 241.6h0.9M47.1 234.7h0.9M56.4 232.4h0.9M83.1 253.5h0.9M46.8 235.1h0.9M63.9 295.8h0.9M56.5 299.9h0.9M76.2 285.0h0.9M85.5 272.9h0.9M59.8 296.7h0.9M72.3 290.4h0.9M38.2 288.9h0.9M80.0 240.1h0.9M55.4 230.8h0.9M83.7 243.3h0.9M41.8 294.3h0.9M52.7 232.6h0.9M56.6 232.0h0.9M63.0 231.1h0.9M75.4 286.0h0.9M36.0 287.6h0.9M39.0 290.7h0.9M55.5 232.1h0.9M83.6 250.3h0.9M40.8 235.8h0.9M66.0 230.7h0.9M85.3 265.6h0.9M85.6 269.0h0.9M51.4 299.3h0.9M44.4 297.3h0.9M75.2 235.3h0.9M62.7 295.8h0.9M38.5 290.2h0.9M82.7 276.9h0.9M87.1 269.2h0.9M83.4 244.4h0.9M85.6 259.0h0.9M64.7 296.1h0.9M58.4 299.0h0.9M59.6 298.0h0.9M64.4 294.4h0.9M61.6 230.5h0.9M60.2 228.9h0.9M40.7 236.7h0.9M37.8 289.4h0.9M68.2 293.8h0.9M75.8 285.4h0.9M79.6 281.6h0.9M51.7 298.6h0.9M71.4 291.2h0.9M80.4 283.7h0.9M59.7 299.1h0.9M83.7 253.5h0.9M41.6 294.9h0.9M86.6 266.3h0.9M66.2 294.9h0.9M75.5 234.5h0.9M81.0 282.2h0.9M76.6 284.6h0.9M46.2 231.2h0.9M41.3 293.4h0.9M52.9 299.9h0.9M82.2 279.2h0.9M70.0 292.1h0.9M43.6 297.0h0.9M62.6 229.5h0.9M84.7 258.1h0.9M42.7 233.3h0.9M81.2 245.9h0.9M46.9 296.2h0.9M58.5 299.0h0.9M57.2 299.4h0.9M72.2 230.6h0.9M70.8 289.8h0.9M84.3 248.1h0.9M63.6 231.2h0.9M64.2 230.9h0.9M64.0 231.0h0.9M85.9 271.6h0.9M81.0 239.1h0.9M41.7 294.0h0.9M73.0 232.4h0.9M79.5 239.7h0.9M84.5 253.5h0.9M75.3 286.9h0.9M80.2 239.5h0.9M60.7 298.5h0.9M85.4 259.6h0.9M36.6 290.8h0.9M38.9 235.6h0.9M38.4 237.4h0.9M40.4 291.5h0.9M46.5 234.2h0.9M80.3 235.2h0.9M46.5 234.9h0.9M74.9 232.0h0.9M48.9 297.5h0.9M43.0 294.7h0.9M80.0 240.4h0.9M85.7 261.6h0.9M70.0 290.7h0.9M67.9 230.9h0.9M77.9 235.6h0.9M52.2 231.6h0.9M34.0 285.1h0.9M85.9 253.0h0.9M52.7 230.6h0.9M38.8 289.8h0.9M68.5 292.5h0.9M83.2 248.6h0.9M86.5 272.5h0.9M83.9 245.9h0.9M61.1 231.7h0.9M45.6 233.4h0.9M85.6 262.4h0.9M86.9 260.7h0.9M62.5 298.9h0.9M85.1 267.5h0.9M39.4 291.6h0.9M84.2 239.9h0.9M56.9 298.7h0.9M65.5 231.5h0.9M53.6 298.3h0.9M86.8 267.2h0.9M83.5 250.2h0.9M65.1 228.0h0.9M85.1 273.3h0.9M39.3 236.6h0.9M74.8 288.9h0.9M61.6 297.7h0.9M56.4 232.1h0.9M82.5 277.5h0.9M83.8 249.4h0.9M45.6 234.0h0.9M49.8 298.8h0.9M75.5 286.5h0.9M84.6 255.2h0.9M72.8 290.1h0.9M84.2 260.5h0.9M86.1 274.5h0.9M84.4 253.3h0.9M37.6 289.5h0.9M84.6 256.1h0.9M86.4 263.8h0.9M62.2 297.4h0.9M75.3 234.6h0.9M44.6 234.4h0.9M45.1 234.2h0.9M77.4 236.4h0.9M82.8 246.1h0.9M86.6 253.1h0.9M46.5 234.7h0.9M45.7 296.1h0.9M80.1 281.7h0.9M63.3 229.5h0.9M39.4 293.8h0.9M55.4 232.0h0.9M40.7 293.0h0.9M58.5 227.7h0.9M56.5 299.8h0.9M34.1 237.4h0.9M82.1 237.5h0.9M84.7 250.4h0.9M39.8 292.1h0.9M42.4 236.0h0.9M78.6 283.9h0.9M39.4 293.0h0.9M82.9 241.8h0.9M73.5 289.0h0.9M62.2 297.5h0.9M83.5 243.9h0.9M40.6 297.0h0.9M52.7 229.6h0.9M85.0 270.2h0.9M86.1 256.2h0.9M41.0 235.9h0.9M48.0 231.2h0.9M88.3 268.2h0.9M76.1 288.0h0.9M59.4 298.1h0.9M84.0 252.6h0.9M85.8 272.3h0.9M69.9 292.0h0.9M88.0 263.9h0.9M76.4 234.1h0.9M48.0 297.0h0.9M87.4 262.6h0.9M72.1 290.1h0.9M39.7 236.4h0.9M83.7 276.6h0.9M38.2 293.8h0.9M48.2 297.4h0.9M62.5 230.6h0.9M83.0 247.6h0.9M46.3 296.4h0.9M84.7 244.8h0.9M57.2 299.6h0.9M81.0 239.4h0.9M74.1 288.3h0.9M36.0 288.7h0.9M76.1 235.3h0.9M84.3 276.6h0.9M87.9 269.4h0.9M77.5 285.7h0.9M84.4 249.1h0.9M73.0 289.5h0.9M46.4 234.4h0.9M49.9 296.6h0.9M59.1 297.7h0.9M85.6 271.9h0.9M81.2 241.5h0.9M48.1 298.0h0.9M77.7 285.3h0.9M79.6 239.3h0.9M75.4 286.0h0.9M80.1 241.1h0.9M85.7 273.6h0.9M88.5 258.8h0.9M41.9 295.7h0.9M50.7 296.7h0.9M76.7 286.6h0.9M35.6 236.4h0.9M52.8 232.0h0.9M82.0 281.0h0.9M85.4 268.0h0.9M56.2 230.5h0.9M46.2 234.0h0.9M74.3 286.6h0.9M76.9 236.5h0.9M45.3 234.1h0.9M84.9 273.6h0.9M47.2 297.1h0.9M86.2 273.8h0.9M59.3 299.7h0.9M78.7 238.6h0.9M36.6 288.6h0.9M38.5 290.9h0.9M80.7 240.0h0.9M59.8 296.9h0.9M39.9 291.6h0.9M65.8 232.5h0.9M69.7 291.1h0.9M47.7 298.3h0.9M82.4 280.9h0.9M35.9 289.3h0.9M62.0 229.6h0.9M75.3 234.9h0.9M86.1 268.2h0.9M87.4 257.4h0.9M84.9 258.7h0.9M48.3 233.2h0.9M79.6 239.7h0.9M87.4 271.7h0.9M50.9 231.9h0.9M76.3 285.0h0.9M82.5 276.5h0.9M57.1 298.2h0.9M58.4 299.3h0.9M41.0 294.5h0.9M46.8 296.9h0.9M77.4 235.3h0.9M34.9 287.5h0.9M34.8 284.7h0.9M58.0 231.2h0.9M85.9 258.2h0.9M73.1 290.1h0.9M37.5 289.2h0.9M76.7 288.0h0.9M87.2 256.6h0.9M36.7 289.0h0.9M70.8 292.4h0.9M45.3 234.6h0.9M88.1 266.6h0.9M78.1 237.2h0.9M84.6 274.9h0.9M43.0 294.2h0.9M87.2 271.2h0.9M86.9 263.2h0.9M39.8 292.5h0.9M58.4 231.4h0.9M84.6 245.3h0.9M60.1 297.4h0.9M62.3 230.4h0.9M63.1 229.5h0.9M77.5 284.4h0.9M35.0 288.1h0.9M53.2 232.8h0.9M36.5 236.7h0.9M76.5 235.4h0.9M78.9 284.2h0.9M43.2 235.0h0.9M50.9 298.8h0.9M68.3 232.5h0.9M75.3 286.6h0.9M84.4 275.1h0.9M81.9 236.7h0.9M64.9 295.8h0.9M56.8 231.7h0.9M39.6 292.4h0.9M74.9 287.0h0.9M48.0 231.2h0.9M85.9 261.5h0.9M46.3 297.5h0.9M63.4 296.9h0.9M52.0 232.5h0.9M35.4 235.2h0.9M53.0 231.1h0.9M62.8 230.8h0.9M70.5 230.5h0.9M57.4 299.3h0.9M84.0 259.1h0.9M54.2 228.9h0.9M74.5 286.3h0.9M57.4 299.0h0.9M85.8 255.7h0.9M83.7 250.5h0.9M77.4 231.4h0.9M82.5 243.0h0.9M84.2 255.9h0.9M47.4 234.0h0.9M80.9 279.1h0.9M84.1 275.5h0.9M83.8 277.6h0.9M51.5 298.3h0.9M81.9 244.6h0.9M81.7 278.5h0.9M84.3 255.1h0.9M65.0 295.4h0.9M58.5 299.2h0.9M77.0 289.6h0.9M86.8 269.6h0.9M40.4 292.3h0.9M66.7 231.8h0.9M75.6 235.6h0.9M81.1 240.3h0.9M70.5 290.8h0.9M38.5 291.1h0.9M63.6 295.2h0.9M60.6 229.5h0.9M66.9 294.0h0.9M37.4 234.5h0.9M86.5 273.0h0.9M82.3 241.4h0.9M66.0 295.8h0.9M42.2 295.1h0.9M44.6 298.0h0.9M71.4 290.6h0.9M47.1 234.2h0.9M70.7 290.8h0.9M41.3 235.7h0.9M48.1 296.2h0.9M80.3 241.6h0.9M79.9 237.3h0.9M87.2 274.4h0.9M48.1 297.7h0.9M68.1 231.0h0.9M54.2 299.7h0.9M55.9 230.7h0.9M76.3 232.5h0.9M58.4 230.5h0.9M68.4 292.7h0.9M41.7 235.2h0.9M84.7 259.1h0.9M36.5 286.9h0.9M71.1 232.1h0.9M37.2 288.9h0.9M41.1 292.5h0.9M85.6 261.8h0.9M85.0 248.0h0.9M86.7 272.8h0.9M84.1 251.8h0.9M37.8 235.8h0.9M84.7 251.7h0.9M57.6 232.0h0.9M69.3 292.6h0.9M86.3 267.0h0.9M63.5 230.8h0.9M73.4 231.5h0.9M83.6 278.4h0.9M64.6 231.5h0.9M77.8 283.0h0.9M71.5 232.1h0.9M55.3 231.8h0.9M34.4 236.8h0.9M83.5 241.8h0.9M38.4 290.5h0.9M54.5 230.4h0.9M86.3 265.6h0.9M40.7 293.0h0.9M84.7 243.9h0.9M58.5 229.6h0.9M47.4 297.1h0.9M64.9 294.7h0.9M84.2 252.6h0.9M75.2 285.7h0.9M73.8 232.3h0.9M55.7 232.1h0.9M79.8 239.7h0.9M50.8 233.1h0.9M37.7 293.9h0.9M82.6 277.1h0.9M84.5 274.4h0.9M83.6 251.9h0.9M69.3 231.6h0.9M38.9 290.5h0.9M75.9 285.3h0.9M50.9 231.3h0.9M41.9 235.3h0.9M67.5 293.1h0.9M66.1 230.4h0.9M42.4 236.0h0.9M52.9 299.3h0.9M83.0 276.7h0.9M39.7 292.2h0.9M34.0 285.7h0.9M39.4 236.9h0.9M75.0 234.5h0.9M86.0 267.5h0.9M61.9 295.8h0.9M64.3 230.1h0.9M50.6 298.6h0.9M74.2 289.9h0.9M75.7 234.2h0.9M36.1 289.2h0.9M40.6 295.8h0.9M37.5 237.1h0.9M82.8 279.0h0.9M60.5 296.9h0.9M86.2 261.6h0.9M52.3 300.3h0.9M80.2 281.3h0.9M75.5 286.3h0.9M73.9 287.6h0.9M68.0 230.8h0.9M46.3 235.0h0.9M83.8 252.9h0.9M66.5 294.9h0.9M45.6 296.5h0.9M85.5 265.9h0.9M36.1 237.0h0.9M62.6 230.9h0.9M59.2 299.9h0.9M54.5 231.3h0.9M85.2 275.6h0.9M62.2 295.3h0.9M83.4 248.8h0.9M41.9 296.2h0.9M88.2 271.4h0.9M60.0 298.3h0.9M39.1 236.6h0.9M82.2 278.5h0.9M73.9 286.8h0.9M52.5 299.2h0.9M41.5 295.3h0.9M59.3 297.1h0.9M85.9 250.0h0.9M72.1 289.2h0.9M70.9 290.4h0.9M38.4 234.6h0.9M35.9 287.8h0.9M36.7 237.8h0.9M70.6 231.5h0.9M50.4 298.9h0.9M39.0 293.0h0.9M56.9 298.4h0.9M85.7 274.7h0.9M48.3 297.3h0.9M79.9 283.7h0.9M71.6 231.6h0.9M76.9 286.5h0.9M49.1 232.8h0.9M86.4 272.1h0.9M53.3 233.0h0.9M53.2 232.1h0.9M88.4 254.9h0.9M53.3 230.9h0.9M84.3 277.9h0.9M82.7 277.1h0.9M43.6 236.1h0.9M47.9 298.0h0.9M82.5 240.9h0.9M85.3 272.1h0.9M48.4 234.5h0.9M86.8 262.5h0.9M83.3 276.3h0.9M41.4 295.1h0.9M44.3 234.7h0.9M44.9 297.7h0.9M85.5 273.7h0.9M85.7 273.1h0.9M80.3 283.9h0.9M82.9 240.2h0.9M86.0 272.4h0.9M77.0 285.0h0.9M72.6 287.6h0.9M84.4 275.8h0.9M80.4 281.4h0.9M59.6 297.0h0.9M70.6 290.6h0.9M82.8 241.9h0.9M58.7 298.2h0.9M82.9 248.0h0.9M56.2 231.2h0.9M68.4 292.9h0.9M69.2 289.8h0.9M78.0 236.2h0.9M68.3 293.7h0.9M74.0 233.0h0.9M69.1 229.9h0.9M51.3 299.2h0.9M49.7 299.9h0.9M69.8 233.1h0.9M74.2 287.3h0.9M52.6 298.8h0.9M84.5 254.1h0.9M85.7 269.8h0.9M54.7 232.7h0.9M41.3 293.6h0.9M38.1 289.1h0.9M39.4 291.7h0.9M67.7 230.3h0.9M86.6 265.6h0.9M58.7 232.4h0.9M81.8 243.9h0.9M37.0 289.7h0.9M54.4 299.6h0.9M82.5 241.1h0.9M86.3 260.6h0.9M87.9 260.0h0.9M86.4 277.8h0.9M61.1 230.7h0.9M36.0 236.1h0.9M67.8 295.7h0.9M60.8 231.3h0.9M87.6 267.5h0.9M40.8 291.1h0.9M59.7 298.6h0.9M85.0 260.5h0.9M61.8 296.0h0.9M52.3 300.3h0.9M87.0 263.7h0.9M84.5 245.4h0.9M58.5 297.4h0.9M53.7 300.7h0.9M83.3 276.5h0.9M39.0 292.2h0.9M76.5 236.5h0.9M58.0 299.0h0.9M83.9 276.6h0.9M66.9 294.6h0.9M70.8 293.9h0.9M51.5 232.6h0.9M86.6 266.7h0.9M33.9 286.3h0.9M85.7 262.5h0.9M43.6 233.7h0.9M57.7 299.6h0.9M67.2 230.9h0.9M86.5 264.0h0.9M87.4 259.0h0.9M72.9 232.4h0.9M79.9 281.3h0.9M82.9 243.6h0.9M56.1 231.9h0.9M85.6 271.9h0.9M76.6 235.2h0.9M52.3 234.1h0.9M48.2 299.5h0.9M39.5 234.9h0.9M82.5 283.3h0.9M70.3 290.5h0.9M60.7 297.8h0.9M55.3 233.1h0.9M75.3 288.2h0.9M85.0 250.8h0.9M40.4 235.4h0.9M81.4 240.4h0.9M74.8 234.3h0.9M49.7 234.2h0.9M61.5 230.7h0.9M66.0 230.4h0.9M74.0 286.6h0.9M85.3 257.8h0.9M34.5 287.5h0.9M66.7 294.9h0.9M63.5 298.2h0.9M74.4 234.6h0.9M49.6 296.6h0.9M86.0 264.4h0.9M35.3 236.3h0.9M46.5 297.4h0.9M83.3 278.7h0.9M63.7 230.1h0.9M50.3 297.7h0.9M79.8 240.1h0.9M85.7 255.5h0.9M58.9 298.9h0.9M86.6 273.5h0.9M68.2 229.0h0.9M82.0 279.8h0.9M67.3 229.4h0.9M81.8 241.8h0.9M49.6 297.9h0.9M38.0 292.5h0.9M83.0 275.9h0.9M58.7 231.2h0.9M37.7 288.9h0.9M54.6 299.4h0.9M77.9 283.5h0.9M70.5 289.9h0.9M53.9 299.3h0.9M75.2 234.0h0.9M54.9 231.4h0.9M80.4 237.7h0.9M41.8 293.3h0.9M45.3 302.3h0.9M77.0 237.0h0.9M79.5 238.9h0.9M41.9 231.9h0.9M61.9 227.6h0.9M41.1 293.7h0.9M44.5 297.2h0.9M57.3 301.8h0.9M81.3 239.2h0.9M45.1 235.9h0.9M75.6 292.4h0.9M66.7 293.4h0.9M73.7 232.8h0.9M82.4 227.5h0.9M78.2 231.3h0.9M52.9 301.8h0.9M34.5 287.4h0.9M64.6 295.7h0.9M83.1 231.0h0.9M56.0 231.2h0.9M40.3 293.2h0.9M78.6 230.0h0.9M78.0 237.4h0.9M40.0 292.7h0.9M62.1 298.0h0.9M46.2 298.2h0.9M65.9 224.2h0.9M34.6 288.8h0.9M54.1 300.7h0.9M87.0 265.5h0.9M57.6 227.5h0.9M38.6 229.8h0.9M68.1 231.3h0.9M36.3 289.6h0.9M49.2 232.1h0.9M53.4 301.2h0.9M38.8 236.2h0.9M90.4 268.7h0.9M68.3 232.1h0.9M51.3 232.5h0.9M59.9 230.2h0.9M87.2 250.9h0.9M44.5 234.1h0.9M59.0 301.1h0.9M73.4 294.0h0.9M40.0 295.8h0.9M63.4 296.6h0.9M68.1 293.9h0.9M70.2 227.9h0.9M85.4 274.0h0.9M62.3 231.4h0.9M84.9 257.6h0.9M37.7 292.4h0.9M67.2 232.0h0.9M72.1 291.0h0.9M87.8 259.1h0.9M80.7 235.4h0.9M70.9 292.1h0.9M81.2 283.2h0.9M51.3 300.2h0.9M39.2 234.7h0.9M83.6 246.4h0.9M88.1 259.7h0.9M53.0 232.5h0.9M38.1 292.6h0.9M68.5 292.8h0.9M65.0 297.0h0.9M41.9 230.9h0.9M36.1 292.9h0.9M84.7 253.8h0.9M87.2 257.9h0.9M43.5 298.9h0.9M37.5 289.8h0.9M83.2 282.2h0.9M79.8 235.9h0.9M91.3 254.3h0.9M64.4 230.1h0.9M58.4 299.3h0.9M83.6 251.3h0.9M45.2 297.1h0.9M86.0 255.3h0.9M55.8 225.6h0.9M36.0 292.0h0.9M73.0 229.8h0.9M60.1 296.8h0.9M34.5 237.3h0.9M56.1 300.9h0.9M72.5 291.3h0.9M58.7 229.6h0.9M55.3 233.3h0.9M59.5 298.4h0.9M59.1 232.5h0.9M79.3 283.5h0.9M84.9 247.6h0.9M71.2 292.4h0.9M76.6 233.6h0.9M40.5 296.6h0.9M87.5 272.3h0.9M57.0 230.4h0.9M76.1 288.5h0.9M86.5 265.1h0.9M39.3 292.1h0.9M85.5 261.7h0.9M56.1 231.7h0.9M87.2 270.6h0.9M37.9 295.0h0.9M65.3 229.7h0.9M41.1 292.7h0.9M71.4 229.7h0.9M85.4 250.5h0.9M79.1 286.7h0.9M45.7 235.1h0.9M88.9 275.0h0.9M48.3 298.6h0.9M80.7 280.5h0.9M75.4 294.2h0.9M65.0 300.6h0.9M80.4 282.0h0.9M67.7 299.9h0.9M90.2 251.6h0.9M86.1 272.1h0.9M37.9 290.9h0.9M76.2 232.1h0.9M42.6 297.7h0.9M43.7 297.2h0.9M83.2 278.5h0.9M89.3 269.1h0.9M54.2 300.5h0.9M85.8 254.0h0.9M87.7 275.5h0.9M57.7 300.4h0.9M45.5 297.5h0.9M76.4 290.9h0.9M75.2 287.8h0.9M55.3 229.9h0.9M85.6 246.6h0.9M50.0 299.1h0.9M62.4 297.0h0.9M57.3 299.6h0.9M43.1 295.0h0.9M88.1 269.3h0.9M39.5 236.0h0.9M81.9 278.1h0.9M38.7 293.4h0.9M66.4 230.4h0.9M83.1 247.4h0.9M77.2 290.7h0.9M88.3 243.7h0.9M76.0 234.5h0.9M82.4 286.6h0.9M85.0 253.8h0.9M85.9 271.2h0.9M34.5 288.8h0.9M77.2 291.7h0.9M67.9 228.1h0.9M55.0 232.5h0.9M83.3 244.5h0.9M52.0 302.6h0.9M86.8 264.5h0.9M73.8 289.0h0.9M85.6 286.7h0.9M34.9 290.4h0.9M92.6 268.4h0.9M39.2 290.8h0.9M85.8 255.8h0.9M57.2 230.0h0.9M78.0 288.1h0.9M61.2 231.4h0.9M69.8 293.1h0.9M84.8 257.8h0.9M86.1 261.3h0.9M44.8 230.9h0.9M34.8 288.5h0.9M48.3 299.4h0.9M89.5 271.6h0.9M50.6 228.4h0.9M43.6 296.2h0.9M51.4 231.9h0.9M38.1 292.4h0.9M37.5 225.9h0.9M79.1 286.7h0.9M70.9 292.4h0.9M63.3 226.6h0.9M61.2 298.1h0.9M85.4 271.4h0.9M71.6 293.1h0.9M72.7 231.1h0.9M73.3 229.6h0.9M78.3 285.8h0.9M60.1 296.9h0.9M89.0 256.1h0.9M92.4 267.7h0.9M57.7 298.1h0.9M68.5 294.4h0.9M43.8 296.0h0.9M76.4 231.9h0.9M49.5 232.9h0.9M38.3 296.1h0.9M40.6 232.2h0.9M71.6 231.4h0.9M52.3 232.2h0.9M48.3 232.0h0.9M70.7 292.0h0.9M35.0 286.0h0.9M81.2 286.0h0.9M70.0 291.6h0.9M36.2 231.2h0.9M87.4 268.6h0.9M71.4 234.6h0.9M57.9 230.4h0.9M64.5 295.7h0.9M61.1 302.3h0.9M73.4 231.4h0.9M55.9 298.4h0.9M77.0 230.9h0.9M84.7 239.2h0.9M88.1 265.8h0.9M83.0 278.9h0.9M65.9 298.0h0.9M45.6 303.2h0.9M67.5 292.4h0.9M47.1 299.3h0.9M37.5 289.6h0.9M34.9 234.9h0.9M59.7 231.4h0.9M76.4 237.0h0.9M78.2 238.2h0.9M89.0 271.4h0.9M39.0 234.0h0.9M82.8 277.9h0.9M42.9 296.8h0.9M83.0 248.0h0.9M44.3 232.2h0.9M75.0 287.4h0.9M83.7 240.7h0.9M35.6 287.7h0.9M85.4 243.7h0.9M39.3 295.8h0.9M71.0 295.2h0.9M79.8 234.4h0.9M82.2 239.1h0.9M86.1 256.7h0.9M66.8 294.0h0.9M87.7 250.5h0.9M80.5 228.3h0.9M67.6 295.3h0.9M54.9 299.5h0.9M87.6 259.3h0.9M79.9 232.2h0.9M36.4 291.1h0.9M50.5 226.3h0.9M86.3 255.7h0.9M77.9 289.4h0.9M71.5 294.5h0.9M47.1 298.7h0.9M80.7 288.9h0.9M83.9 248.9h0.9M88.5 263.2h0.9M86.5 265.0h0.9M54.8 231.3h0.9M64.9 229.3h0.9M49.2 231.3h0.9M78.2 231.1h0.9M72.0 233.3h0.9M86.1 275.4h0.9M71.2 233.1h0.9M85.8 272.4h0.9M38.9 290.3h0.9M65.9 295.8h0.9M43.3 233.1h0.9M88.4 275.6h0.9M49.0 233.7h0.9M87.0 272.7h0.9M79.6 234.9h0.9M39.1 290.7h0.9M69.8 228.4h0.9M70.9 294.2h0.9M39.2 295.4h0.9M50.8 302.8h0.9M49.7 229.3h0.9M64.6 295.6h0.9M82.9 248.9h0.9M81.7 287.5h0.9M53.5 230.0h0.9M39.1 293.0h0.9M61.9 232.3h0.9M74.4 233.4h0.9M51.0 298.7h0.9M85.2 259.0h0.9M57.3 299.1h0.9M40.7 296.3h0.9M70.4 291.7h0.9M50.2 233.1h0.9M47.8 230.0h0.9M41.2 231.3h0.9M83.3 246.1h0.9M85.9 275.9h0.9M89.2 265.2h0.9M92.0 270.2h0.9M87.5 254.0h0.9M37.7 289.5h0.9M84.4 278.4h0.9M44.5 234.2h0.9M85.3 265.0h0.9M41.9 293.5h0.9M34.5 233.7h0.9M82.1 278.5h0.9M76.9 233.4h0.9M68.6 223.5h0.9M87.0 276.2h0.9M84.6 276.4h0.9M85.2 259.1h0.9M82.3 282.9h0.9M83.8 276.1h0.9M49.9 233.6h0.9M36.2 230.6h0.9M78.3 236.8h0.9M48.4 303.8h0.9M52.8 300.9h0.9M85.5 265.9h0.9M73.0 233.7h0.9M73.3 287.2h0.9M46.5 296.3h0.9M82.7 242.3h0.9M44.6 297.1h0.9M52.3 299.7h0.9M74.4 235.3h0.9M52.4 228.5h0.9M83.5 280.3h0.9M73.4 228.7h0.9M83.2 258.3h0.9M74.9 225.6h0.9M72.0 227.9h0.9M88.1 261.9h0.9M82.0 277.3h0.9M48.1 233.9h0.9M75.0 225.2h0.9M35.2 235.2h0.9M87.6 264.5h0.9M69.9 228.3h0.9M71.4 226.1h0.9M42.6 296.0h0.9M79.0 286.0h0.9M81.5 242.5h0.9M66.7 226.9h0.9M50.5 230.4h0.9M49.8 297.6h0.9M87.1 276.6h0.9M76.7 291.1h0.9M84.5 249.7h0.9M78.5 230.7h0.9M39.8 291.4h0.9M71.1 229.0h0.9M92.1 259.4h0.9M57.1 301.2h0.9M60.0 230.0h0.9M72.9 232.9h0.9M36.5 234.3h0.9M85.7 266.5h0.9M82.3 280.8h0.9M44.7 296.1h0.9M67.7 226.6h0.9M69.3 294.2h0.9M87.8 239.0h0.9M37.1 288.4h0.9M88.1 252.6h0.9M82.2 237.6h0.9M50.1 234.1h0.9M84.8 280.5h0.9M85.1 246.1h0.9M86.5 261.8h0.9M62.5 228.3h0.9M55.9 231.8h0.9M59.6 229.6h0.9M87.3 264.0h0.9M49.9 231.3h0.9M45.8 299.1h0.9M49.5 231.8h0.9M78.5 238.9h0.9M88.6 275.7h0.9M47.3 300.4h0.9M38.5 235.5h0.9M60.6 297.0h0.9M58.7 298.8h0.9M77.5 237.3h0.9M43.6 235.0h0.9M83.7 247.0h0.9M55.1 226.0h0.9M54.8 298.6h0.9M34.5 290.3h0.9M82.4 241.8h0.9M76.8 234.9h0.9M83.8 252.1h0.9M75.5 290.8h0.9M74.5 288.6h0.9M79.5 284.8h0.9M57.4 228.3h0.9M35.9 290.7h0.9M86.4 279.9h0.9M53.7 233.4h0.9M71.1 233.6h0.9M63.7 299.1h0.9M82.3 238.0h0.9M34.9 286.6h0.9M90.0 272.7h0.9M76.8 290.4h0.9M87.3 256.4h0.9M50.1 232.7h0.9M71.5 290.4h0.9M38.5 292.7h0.9M43.8 300.3h0.9M36.3 230.1h0.9M72.9 230.7h0.9M69.4 294.4h0.9M58.9 299.8h0.9M35.9 292.5h0.9M41.4 293.8h0.9M85.9 252.0h0.9M53.5 228.0h0.9M62.3 296.2h0.9M53.1 300.2h0.9M81.5 281.8h0.9M47.9 234.4h0.9M78.7 283.0h0.9M68.8 296.8h0.9M76.3 235.7h0.9M39.2 231.6h0.9M81.7 236.5h0.9M48.0 233.9h0.9M84.6 280.2h0.9M68.0 296.3h0.9M83.6 248.8h0.9M68.6 231.6h0.9M87.1 242.6h0.9M88.3 270.2h0.9M55.2 230.5h0.9M86.7 264.4h0.9M83.1 278.1h0.9M80.8 232.3h0.9M65.1 295.0h0.9M82.5 248.8h0.9M73.4 289.1h0.9M74.3 289.5h0.9M56.9 229.7h0.9M46.8 297.2h0.9M60.4 231.6h0.9M47.7 297.9h0.9M83.1 279.4h0.9M77.0 235.2h0.9M58.9 232.2h0.9M58.4 298.1h0.9M47.7 299.2h0.9M75.5 285.8h0.9M82.6 280.6h0.9M86.6 282.2h0.9M85.0 261.9h0.9M49.9 233.4h0.9M63.2 296.6h0.9M44.6 295.9h0.9M87.6 250.7h0.9M55.8 232.8h0.9M38.9 236.0h0.9M87.2 275.9h0.9M86.5 254.9h0.9M50.0 231.2h0.9M87.2 255.0h0.9M61.7 229.3h0.9M86.6 277.6h0.9M41.6 232.5h0.9M75.0 232.2h0.9M53.6 227.8h0.9M53.5 301.1h0.9M37.4 288.8h0.9M36.2 288.0h0.9M82.6 279.7h0.9M68.2 294.0h0.9M58.3 227.2h0.9M43.1 297.3h0.9M85.7 231.8h0.9M85.8 270.4h0.9M65.4 231.7h0.9M86.0 256.3h0.9M89.1 274.3h0.9M40.4 235.1h0.9M36.9 232.0h0.9M36.6 290.6h0.9M54.6 232.5h0.9M41.0 229.9h0.9M53.0 298.4h0.9M85.4 255.1h0.9M90.1 251.5h0.9M50.9 232.5h0.9M61.9 298.0h0.9M84.9 244.4h0.9M40.1 232.0h0.9M77.6 282.2h0.9M90.5 243.9h0.9M51.9 230.3h0.9M83.2 277.5h0.9M73.1 293.4h0.9M88.1 244.1h0.9M88.7 268.9h0.9M59.4 228.6h0.9M48.3 230.7h0.9M71.0 231.9h0.9M66.1 226.6h0.9M73.2 226.8h0.9M69.8 295.0h0.9M40.8 231.8h0.9M73.7 289.5h0.9M91.7 256.5h0.9M56.4 227.0h0.9M82.2 241.5h0.9M86.4 260.8h0.9M50.1 299.0h0.9M58.6 297.0h0.9M66.2 225.7h0.9M65.4 297.5h0.9M80.4 282.5h0.9M80.7 283.5h0.9M84.1 254.5h0.9M84.7 260.9h0.9M66.3 294.5h0.9M62.6 229.2h0.9M46.6 296.6h0.9M64.7 229.3h0.9M85.5 274.8h0.9M66.3 296.1h0.9M72.2 292.2h0.9M69.6 229.4h0.9M55.2 298.7h0.9M76.7 286.6h0.9M39.3 234.5h0.9M75.5 288.5h0.9M86.3 247.9h0.9M73.4 290.8h0.9M47.6 231.2h0.9M74.3 287.1h0.9M93.2 246.3h0.9M35.3 290.7h0.9M60.5 297.8h0.9M51.3 300.5h0.9M47.0 303.5h0.9M74.0 288.9h0.9M47.5 233.9h0.9M58.8 230.4h0.9M57.9 302.9h0.9M56.3 229.0h0.9M54.3 299.6h0.9M38.3 293.2h0.9M60.2 232.3h0.9M85.2 256.3h0.9M46.4 234.5h0.9M77.1 237.7h0.9M83.7 281.6h0.9M75.1 286.9h0.9M60.6 299.3h0.9M36.2 295.2h0.9M44.8 300.2h0.9M86.6 270.9h0.9M88.8 250.4h0.9M80.2 284.9h0.9M88.3 276.6h0.9M34.1 284.5h0.9M56.0 230.0h0.9M71.8 289.9h0.9M64.8 229.1h0.9M71.7 290.0h0.9M82.0 236.9h0.9M65.2 228.4h0.9M50.1 303.1h0.9M74.8 287.8h0.9M53.4 231.0h0.9M71.3 289.8h0.9M45.7 230.8h0.9M88.0 261.8h0.9M75.6 234.7h0.9M79.0 238.3h0.9M36.7 289.3h0.9M44.4 230.0h0.9M81.3 234.3h0.9M75.6 233.5h0.9M67.6 230.2h0.9M48.8 299.4h0.9M46.5 229.6h0.9M53.7 303.3h0.9M35.8 291.2h0.9M62.9 229.4h0.9M79.3 288.7h0.9M78.3 287.2h0.9M82.5 282.2h0.9M41.6 231.7h0.9M42.8 233.3h0.9M56.8 299.1h0.9M85.9 251.2h0.9M59.5 231.5h0.9M87.1 258.2h0.9M79.8 285.5h0.9M75.4 289.2h0.9M49.0 302.4h0.9M71.5 221.2h0.9M51.0 297.8h0.9M73.9 289.5h0.9M83.6 280.9h0.9M49.3 221.9h0.9M82.8 277.1h0.9M42.8 296.0h0.9M45.5 228.8h0.9M42.0 293.6h0.9M76.4 289.8h0.9M45.4 229.6h0.9M88.8 260.4h0.9M56.7 228.1h0.9M89.8 267.1h0.9M40.4 236.8h0.9M68.4 221.4h0.9M39.1 231.2h0.9M88.0 232.8h0.9M62.2 300.0h0.9M77.1 287.2h0.9M77.4 287.8h0.9M71.8 291.2h0.9M56.4 228.9h0.9M72.7 289.8h0.9M87.6 247.5h0.9M38.3 290.2h0.9M75.7 292.4h0.9M54.8 226.7h0.9M83.2 248.5h0.9M40.5 232.5h0.9M38.8 229.8h0.9M90.7 250.1h0.9M78.0 282.4h0.9M90.1 279.0h0.9M82.6 245.3h0.9M94.3 254.6h0.9M71.8 289.9h0.9M90.7 250.1h0.9M86.1 232.7h0.9M86.4 260.5h0.9M56.2 301.7h0.9M88.0 284.0h0.9M51.6 299.8h0.9M71.8 293.8h0.9M49.0 224.7h0.9M38.2 233.2h0.9M60.6 229.5h0.9M75.2 295.3h0.9M59.0 230.1h0.9M58.0 303.7h0.9M90.7 270.1h0.9M93.1 266.6h0.9M85.4 256.4h0.9M61.0 229.6h0.9M82.4 278.5h0.9M86.8 243.4h0.9M74.3 290.2h0.9M58.4 231.9h0.9M88.3 253.4h0.9M84.5 239.6h0.9M84.9 256.0h0.9M51.3 231.7h0.9M46.2 301.2h0.9M85.0 271.0h0.9M86.6 284.3h0.9M57.8 300.7h0.9M78.8 295.8h0.9M66.5 231.5h0.9M76.4 285.9h0.9M81.2 285.0h0.9M51.4 224.3h0.9M53.0 301.9h0.9M76.4 287.9h0.9M80.5 285.3h0.9M91.5 251.6h0.9M84.2 279.9h0.9M53.1 300.9h0.9M64.2 299.6h0.9M86.2 272.2h0.9M59.7 297.4h0.9M84.4 295.3h0.9M49.2 226.5h0.9M83.1 235.0h0.9M42.1 232.0h0.9M59.8 227.8h0.9M66.4 230.3h0.9M56.5 227.0h0.9M93.8 263.0h0.9M40.4 296.5h0.9M61.8 300.7h0.9M90.0 259.7h0.9M51.4 223.5h0.9M93.3 248.5h0.9M71.3 290.2h0.9M39.0 235.8h0.9M87.3 255.0h0.9M57.1 299.0h0.9M87.0 245.8h0.9M57.4 218.6h0.9M38.7 291.0h0.9M83.5 278.3h0.9M62.5 305.1h0.9M68.5 232.1h0.9M83.1 277.7h0.9M88.7 272.2h0.9M88.2 266.6h0.9M83.1 240.1h0.9M60.8 298.6h0.9M84.5 282.4h0.9M82.8 249.3h0.9M88.1 247.0h0.9M72.1 226.2h0.9M55.0 299.6h0.9M61.5 304.7h0.9M42.2 235.8h0.9M62.7 297.1h0.9M93.1 267.5h0.9M85.1 243.1h0.9M82.0 278.8h0.9M81.5 243.9h0.9M81.1 237.0h0.9M93.9 269.9h0.9M86.0 283.8h0.9M83.1 290.5h0.9M49.3 223.9h0.9M49.1 232.8h0.9M55.6 230.2h0.9M60.2 301.0h0.9M81.7 277.1h0.9M52.4 304.1h0.9M40.6 292.8h0.9M86.9 237.8h0.9M36.7 232.7h0.9M96.1 264.6h0.9M44.0 296.5h0.9M87.2 276.6h0.9M88.6 237.9h0.9M59.5 303.9h0.9M73.7 232.8h0.9M77.0 290.6h0.9M77.0 236.6h0.9M40.1 297.0h0.9M54.0 298.9h0.9M46.4 221.7h0.9M44.1 227.8h0.9M84.9 274.4h0.9M40.6 231.0h0.9M88.8 232.5h0.9M82.3 241.5h0.9M45.0 296.4h0.9M89.7 237.8h0.9M39.5 296.3h0.9M50.5 229.1h0.9M89.6 270.6h0.9M89.4 237.4h0.9M89.0 246.3h0.9M79.1 239.0h0.9M58.0 230.3h0.9M52.0 303.5h0.9M68.2 300.5h0.9M35.0 229.4h0.9M71.7 294.3h0.9M68.7 227.0h0.9M83.7 276.9h0.9M79.7 283.7h0.9M85.1 272.7h0.9M78.7 282.2h0.9M63.2 299.5h0.9M86.1 263.3h0.9M38.1 233.3h0.9M86.3 259.6h0.9M38.6 293.1h0.9M86.6 266.2h0.9M94.9 265.1h0.9M42.5 300.8h0.9M89.9 247.0h0.9M47.7 226.7h0.9M90.5 257.2h0.9M37.9 296.7h0.9M53.0 301.4h0.9M67.9 292.9h0.9M61.5 220.7h0.9M37.7 297.3h0.9M48.9 225.8h0.9M86.6 237.8h0.9M38.6 228.8h0.9M48.5 233.8h0.9M46.8 300.2h0.9M53.4 303.6h0.9M63.5 294.9h0.9M59.8 229.4h0.9M51.6 298.2h0.9M77.9 231.3h0.9M77.9 238.0h0.9M91.1 281.0h0.9M38.2 294.9h0.9M93.5 268.4h0.9M92.2 264.7h0.9M76.4 234.1h0.9M40.9 225.9h0.9M40.9 226.8h0.9M71.5 226.0h0.9M50.6 233.0h0.9M52.7 229.0h0.9M36.1 230.7h0.9M42.2 228.5h0.9M95.5 270.4h0.9M88.2 283.2h0.9M76.8 286.1h0.9M82.0 227.3h0.9M44.6 227.3h0.9M82.8 237.7h0.9M84.7 245.6h0.9M54.5 229.4h0.9M80.6 283.7h0.9M39.1 231.0h0.9M75.1 286.9h0.9M63.7 297.6h0.9M57.5 300.9h0.9M39.2 292.0h0.9M63.0 297.1h0.9M84.8 250.1h0.9M84.0 283.1h0.9M61.7 218.7h0.9M78.0 284.7h0.9M52.3 224.4h0.9M73.0 297.7h0.9M89.0 249.5h0.9M88.6 244.1h0.9M79.2 295.4h0.9M72.6 224.5h0.9M79.5 288.6h0.9M40.0 297.1h0.9M87.3 274.0h0.9M90.0 277.5h0.9M41.2 226.0h0.9M79.8 284.4h0.9M86.5 279.1h0.9M60.7 228.0h0.9M51.7 299.3h0.9M75.9 286.7h0.9M53.6 300.3h0.9M77.3 299.5h0.9M77.2 289.4h0.9M46.3 233.6h0.9M86.2 244.5h0.9M86.1 245.3h0.9M65.2 304.4h0.9M46.8 302.6h0.9M37.7 291.4h0.9M43.2 228.8h0.9M43.0 221.3h0.9M73.2 218.6h0.9M70.2 232.7h0.9M79.8 232.1h0.9M80.0 235.6h0.9M78.5 231.9h0.9M45.9 297.6h0.9M83.2 285.0h0.9M86.9 244.3h0.9M44.0 297.8h0.9M72.4 292.2h0.9M68.0 299.2h0.9M73.2 222.1h0.9M72.8 292.5h0.9M69.1 232.3h0.9M66.9 299.3h0.9M49.0 224.6h0.9M37.8 292.1h0.9M59.3 301.2h0.9M49.0 301.8h0.9M82.6 241.8h0.9M57.3 297.8h0.9M62.4 303.3h0.9M91.1 252.5h0.9M75.5 234.4h0.9M89.9 268.5h0.9M52.5 227.1h0.9M70.9 231.4h0.9M71.7 295.2h0.9M34.2 230.2h0.9M88.3 259.8h0.9M63.5 304.6h0.9M42.0 296.5h0.9M92.8 272.3h0.9M86.7 271.3h0.9M61.5 298.5h0.9M89.7 269.8h0.9M86.5 259.4h0.9M49.6 233.1h0.9M71.9 230.0h0.9M46.9 229.6h0.9M41.2 232.3h0.9M87.5 248.2h0.9M82.7 228.8h0.9M34.4 289.6h0.9M85.9 274.4h0.9M60.6 230.5h0.9M81.5 223.4h0.9M68.2 228.9h0.9M73.2 223.4h0.9M74.2 224.8h0.9M79.1 230.5h0.9M71.5 219.4h0.9M77.3 233.4h0.9M78.6 224.4h0.9M88.7 223.0h0.9M74.6 231.0h0.9M79.6 226.6h0.9M81.8 222.2h0.9M77.2 228.8h0.9M79.3 232.2h0.9M83.5 233.0h0.9M74.6 228.3h0.9M62.5 221.3h0.9M76.7 225.1h0.9M79.9 229.9h0.9M81.0 228.9h0.9M80.9 226.6h0.9M84.6 232.7h0.9M78.6 223.2h0.9M75.0 231.6h0.9M72.1 222.6h0.9M71.1 224.3h0.9M83.4 227.7h0.9M74.9 229.0h0.9M73.8 230.0h0.9M86.3 223.6h0.9M71.0 222.9h0.9M82.9 225.7h0.9M72.6 225.7h0.9M75.3 224.0h0.9M75.3 223.1h0.9M80.2 232.1h0.9M76.1 228.9h0.9M83.2 228.0h0.9M74.7 229.3h0.9M88.3 228.1h0.9M76.0 221.9h0.9M68.1 219.5h0.9M72.7 228.0h0.9M72.8 225.9h0.9M79.6 227.0h0.9" stroke="#000" stroke-width="0.9" fill="none"/>
<path d="M35.0 240.2h0.9M34.0 261.6h0.9M34.1 258.9h0.9M35.5 278.2h0.9M36.1 263.9h0.9M35.0 278.1h0.9M35.1 257.7h0.9M35.7 277.8h0.9M34.4 282.9h0.9M34.6 289.0h0.9M33.9 267.3h0.9M33.9 248.9h0.9M35.0 268.6h0.9M34.0 266.8h0.9M34.0 270.7h0.9M35.6 240.3h0.9M34.1 253.3h0.9M35.1 273.5h0.9M33.9 242.2h0.9M36.7 253.5h0.9M34.6 284.0h0.9M35.1 252.3h0.9M34.9 283.3h0.9M34.5 240.5h0.9M34.5 283.5h0.9" stroke="#fff" stroke-width="0.9" fill="none"/>
<rect x="33.4" y="207.1" width="100.1" height="99.9" fill="none" stroke="#6a6a6a" stroke-width="1"/>
<ellipse cx="79.5" cy="222.5" rx="12.3" ry="8.4" fill="none" stroke="#777" stroke-width="0.8"/>
<path d="M33.8 401.8C34.9 401.5 37.3 400.6 40.5 400.2C43.7 399.8 48.8 399.4 53.0 399.3C57.2 399.2 62.3 399.0 65.5 399.5C68.7 400.0 70.5 400.5 72.2 402.2C73.9 403.9 74.9 406.5 75.8 409.5C76.7 412.5 76.9 416.8 77.4 420.0C77.9 423.2 78.8 425.6 78.6 429.0C78.4 432.4 77.1 436.5 76.2 440.5C75.4 444.5 74.8 449.2 73.8 453.0C72.7 456.8 71.5 460.3 70.0 463.0C68.5 465.7 67.9 467.8 65.0 469.2C62.1 470.7 56.7 472.3 52.5 471.8C48.3 471.2 43.1 468.1 40.0 466.0C36.9 463.9 34.8 460.2 33.8 459.0Z" fill="#000"/>
<path d="M94.8 404.7h0.85M97.6 413.2h0.85M99.5 405.7h0.85M106.3 407.9h0.85M107.5 404.2h0.85M92.1 402.4h0.85M93.0 402.2h0.85M108.0 404.4h0.85M96.5 410.8h0.85M100.1 405.6h0.85M102.6 409.9h0.85M95.9 395.2h0.85M92.9 409.0h0.85M91.3 399.2h0.85M104.9 402.1h0.85M99.5 397.1h0.85M93.2 404.4h0.85M103.8 404.1h0.85M98.2 398.3h0.85M93.4 405.8h0.85M102.1 407.0h0.85M98.1 406.6h0.85M91.5 405.5h0.85M95.1 402.3h0.85M110.6 402.8h0.85M89.4 396.7h0.85M94.7 398.3h0.85M91.8 406.6h0.85M97.3 407.7h0.85M100.5 406.0h0.85M92.8 400.9h0.85M98.7 404.3h0.85M116.7 410.3h0.85M110.4 405.2h0.85M85.1 399.8h0.85M108.2 404.2h0.85M93.2 395.2h0.85M90.6 405.1h0.85M101.9 405.0h0.85M104.3 400.2h0.85M99.5 395.0h0.85M89.6 408.6h0.85M107.5 401.7h0.85M105.0 408.2h0.85M96.0 410.9h0.85M107.2 402.8h0.85M104.7 403.6h0.85M94.1 395.9h0.85M87.7 402.3h0.85M94.9 403.2h0.85M93.8 401.8h0.85M90.2 401.0h0.85M100.3 398.2h0.85M94.5 394.2h0.85M105.8 400.8h0.85M101.8 407.7h0.85M102.0 406.4h0.85M91.9 401.9h0.85M108.1 400.2h0.85M87.6 408.3h0.85M93.4 404.3h0.85M94.0 402.2h0.85M91.6 403.3h0.85M94.8 393.3h0.85M92.4 403.7h0.85M100.3 413.9h0.85M95.2 403.0h0.85M103.4 406.2h0.85M94.4 398.0h0.85M96.3 400.8h0.85M82.0 402.1h0.85M89.0 407.2h0.85M107.2 403.4h0.85M102.7 400.1h0.85M98.8 406.8h0.85M91.1 400.3h0.85M93.9 393.8h0.85M100.9 407.7h0.85M108.4 400.7h0.85M89.7 410.3h0.85M97.4 396.0h0.85M94.8 399.2h0.85M90.4 401.5h0.85M93.7 405.7h0.85M96.5 401.2h0.85M90.3 395.1h0.85M92.0 410.6h0.85M89.8 394.7h0.85M102.3 402.7h0.85M99.7 400.7h0.85M98.9 418.9h0.85M82.8 391.7h0.85M85.6 424.5h0.85M95.3 407.4h0.85M82.6 387.2h0.85M81.8 421.7h0.85M97.1 399.4h0.85M86.3 422.0h0.85M95.2 396.3h0.85M92.2 423.4h0.85M88.5 393.7h0.85M95.7 420.5h0.85M79.8 431.5h0.85M81.5 416.3h0.85M91.5 396.0h0.85M79.6 425.1h0.85M95.9 426.4h0.85M84.9 427.5h0.85M89.6 410.8h0.85M87.2 418.2h0.85M98.9 419.0h0.85M78.1 410.3h0.85M84.2 379.4h0.85M100.2 401.1h0.85M81.6 416.6h0.85M98.9 434.1h0.85M93.7 414.0h0.85M90.0 421.6h0.85M93.0 417.7h0.85M83.3 406.9h0.85M94.0 427.9h0.85M93.9 423.5h0.85M100.4 401.3h0.85M96.2 412.0h0.85M104.5 440.3h0.85M88.1 384.2h0.85M82.4 423.6h0.85M93.3 435.7h0.85M84.2 411.9h0.85M97.5 408.1h0.85M81.8 405.4h0.85M87.5 400.2h0.85M84.2 408.3h0.85M87.4 409.7h0.85M91.2 417.3h0.85M96.8 426.0h0.85M93.0 425.6h0.85M89.2 395.3h0.85M93.7 440.8h0.85M83.5 398.1h0.85M83.4 428.3h0.85M86.8 426.3h0.85M91.3 437.0h0.85M82.9 424.6h0.85M91.8 419.5h0.85M88.7 405.7h0.85M91.8 429.3h0.85M90.4 416.5h0.85M93.5 431.1h0.85M96.9 431.3h0.85M82.6 452.0h0.85M79.6 432.7h0.85M82.6 421.1h0.85M82.3 411.6h0.85M91.9 434.2h0.85M93.8 400.1h0.85M84.7 416.7h0.85M87.6 401.9h0.85M89.1 399.6h0.85M88.8 400.3h0.85M79.1 389.7h0.85M77.9 403.2h0.85M88.8 399.4h0.85M84.0 396.1h0.85M78.5 391.3h0.85M89.2 396.4h0.85M86.2 395.3h0.85M94.4 404.2h0.85M83.8 402.3h0.85M90.8 397.5h0.85M84.9 397.4h0.85M81.4 388.8h0.85M78.6 404.0h0.85M89.3 399.3h0.85M88.6 398.6h0.85M78.1 396.1h0.85M82.4 394.0h0.85M90.1 391.6h0.85M87.6 393.9h0.85M85.6 397.9h0.85M84.2 408.4h0.85M80.0 396.6h0.85M87.6 397.9h0.85M76.2 407.2h0.85M84.3 397.5h0.85M81.0 395.1h0.85M82.8 404.2h0.85M86.4 400.6h0.85M90.7 406.8h0.85M87.5 401.6h0.85M78.4 403.4h0.85M81.9 397.7h0.85M76.1 399.1h0.85M77.6 399.9h0.85M86.9 397.0h0.85M85.5 392.9h0.85M85.5 394.9h0.85M76.7 400.5h0.85M77.7 401.3h0.85M81.3 400.7h0.85M83.1 398.4h0.85M87.6 402.2h0.85M80.5 395.3h0.85M92.3 398.3h0.85M90.0 394.2h0.85M90.3 394.0h0.85M92.6 401.3h0.85M88.8 394.7h0.85M81.0 398.3h0.85M87.2 405.0h0.85M90.6 379.9h0.85M89.2 397.1h0.85M90.0 401.2h0.85" stroke="#222" stroke-width="0.85" fill="none"/>
<path d="M77.7 434.3h0.9M77.4 433.6h0.9M78.2 431.9h0.9M73.0 455.1h0.9M78.3 422.8h0.9M68.4 464.9h0.9M77.4 408.2h0.9M72.4 403.3h0.9M72.3 402.7h0.9M62.5 399.1h0.9M78.7 415.2h0.9M78.6 434.6h0.9M67.1 400.0h0.9M74.1 404.2h0.9M78.2 438.0h0.9M37.8 400.6h0.9M76.2 438.4h0.9M44.8 467.9h0.9M72.7 457.9h0.9M77.1 409.6h0.9M68.7 464.8h0.9M68.8 465.0h0.9M77.7 434.0h0.9M40.4 466.2h0.9M52.1 399.0h0.9M63.6 397.6h0.9M79.2 431.2h0.9M72.9 454.8h0.9M60.5 397.7h0.9M75.0 407.3h0.9M61.0 469.8h0.9M80.1 419.5h0.9M75.6 438.7h0.9M79.1 418.1h0.9M45.1 466.9h0.9M76.5 436.6h0.9M79.2 433.6h0.9M76.8 447.5h0.9M60.4 398.6h0.9M77.0 411.7h0.9M77.5 447.5h0.9M69.9 401.6h0.9M54.2 398.3h0.9M78.5 436.5h0.9M35.3 400.6h0.9M54.7 398.6h0.9M80.0 430.0h0.9M67.6 467.2h0.9M77.5 435.7h0.9M50.9 471.2h0.9M70.9 401.4h0.9M52.2 398.4h0.9M45.4 396.7h0.9M76.4 437.1h0.9M77.2 415.0h0.9M54.8 397.8h0.9M58.1 470.3h0.9M38.0 463.0h0.9M61.9 400.3h0.9M76.1 439.7h0.9M55.7 470.5h0.9M74.2 404.0h0.9M75.6 416.7h0.9M65.7 467.7h0.9M61.7 397.7h0.9M70.0 463.7h0.9M56.8 471.8h0.9M72.1 457.2h0.9M53.0 397.7h0.9M72.7 456.9h0.9M63.0 470.7h0.9M60.0 471.0h0.9M60.2 397.5h0.9M65.5 469.5h0.9M78.9 421.3h0.9M78.8 425.5h0.9M71.7 401.2h0.9M77.3 426.8h0.9M36.9 463.5h0.9M63.0 397.3h0.9M53.6 471.7h0.9M44.4 468.4h0.9M75.8 442.0h0.9M73.6 451.3h0.9M59.1 471.0h0.9M54.3 397.2h0.9M78.1 433.9h0.9M44.8 467.4h0.9M76.8 413.0h0.9M63.4 399.4h0.9M63.7 469.9h0.9M62.9 470.3h0.9M72.2 462.1h0.9M34.2 401.9h0.9M70.0 462.0h0.9M72.7 455.5h0.9M64.5 470.3h0.9M45.5 398.6h0.9M36.6 401.1h0.9M75.5 447.4h0.9M68.9 462.0h0.9M77.0 414.2h0.9M52.9 399.0h0.9M41.7 466.5h0.9M66.8 398.9h0.9M56.3 396.7h0.9M77.4 434.6h0.9M77.0 420.3h0.9M57.3 469.8h0.9M40.4 465.9h0.9M42.5 399.7h0.9M40.1 466.4h0.9M76.4 439.4h0.9M45.8 470.3h0.9M34.3 460.9h0.9M78.6 439.5h0.9M76.2 443.4h0.9M66.2 468.2h0.9M72.7 398.6h0.9M60.5 398.0h0.9M76.5 414.0h0.9M42.3 399.8h0.9M79.1 424.7h0.9M76.0 441.1h0.9M75.4 409.4h0.9M68.2 465.8h0.9M70.0 461.4h0.9M79.6 420.5h0.9M48.4 471.0h0.9M78.7 421.4h0.9M76.4 442.0h0.9M46.8 399.6h0.9M73.5 404.8h0.9M78.2 431.3h0.9M46.8 395.7h0.9M46.9 399.6h0.9M37.8 465.3h0.9M72.4 458.3h0.9M53.9 398.0h0.9M66.5 466.6h0.9M43.3 398.7h0.9M42.3 466.8h0.9M47.9 396.3h0.9M43.7 468.9h0.9M70.5 463.0h0.9M38.3 463.4h0.9M47.7 468.4h0.9M78.3 433.3h0.9M53.2 398.8h0.9M77.0 410.3h0.9M76.8 415.7h0.9M49.9 470.1h0.9M67.0 398.9h0.9M78.5 430.2h0.9M51.7 399.1h0.9M41.7 466.4h0.9M39.6 464.9h0.9M79.2 426.9h0.9M79.3 432.3h0.9M78.5 408.7h0.9M76.3 445.6h0.9M64.8 397.6h0.9M80.3 427.0h0.9M77.1 435.0h0.9M81.8 422.6h0.9M35.0 399.9h0.9M58.1 471.2h0.9M72.0 458.2h0.9M75.7 446.4h0.9M77.4 413.6h0.9M70.5 463.8h0.9M71.2 462.4h0.9M71.5 461.3h0.9M68.2 463.0h0.9M73.5 404.4h0.9M42.0 468.3h0.9M70.2 466.1h0.9M46.6 468.0h0.9M35.6 461.6h0.9M72.1 459.5h0.9M59.8 396.4h0.9M47.1 401.2h0.9M75.8 405.0h0.9M73.6 454.8h0.9M76.6 408.1h0.9M58.2 469.9h0.9M58.4 397.3h0.9M77.2 414.4h0.9M67.0 465.9h0.9M62.1 400.2h0.9M39.2 400.7h0.9M56.1 470.3h0.9M42.2 398.0h0.9M72.5 402.2h0.9M79.4 413.8h0.9M77.7 447.4h0.9M35.0 400.6h0.9M56.6 469.7h0.9M41.7 466.5h0.9M47.4 399.5h0.9M78.9 431.2h0.9M61.1 397.2h0.9M54.3 398.2h0.9M78.2 437.3h0.9M57.4 399.0h0.9M63.3 469.4h0.9M76.6 436.4h0.9M42.5 397.7h0.9M76.1 443.9h0.9M77.0 415.0h0.9M80.5 428.8h0.9M51.8 399.8h0.9M69.0 465.0h0.9M75.1 445.3h0.9M68.0 399.6h0.9M75.8 440.9h0.9M57.4 398.3h0.9M36.9 401.7h0.9M44.0 466.6h0.9M75.4 406.2h0.9M78.7 410.9h0.9M41.4 466.4h0.9M77.6 411.8h0.9M77.0 437.5h0.9M43.0 467.8h0.9M77.3 440.6h0.9M75.4 448.0h0.9M37.6 464.1h0.9M76.3 413.6h0.9M73.2 452.6h0.9M40.2 399.7h0.9M55.2 399.4h0.9M76.1 407.4h0.9M74.6 446.2h0.9M76.5 410.9h0.9M73.6 454.0h0.9M45.1 468.4h0.9M77.8 425.2h0.9M40.9 467.1h0.9M68.9 398.9h0.9M76.4 441.1h0.9M50.3 399.8h0.9M72.4 402.1h0.9M57.9 471.3h0.9M45.1 469.4h0.9M76.9 408.2h0.9M36.4 401.1h0.9M39.0 464.6h0.9M54.9 397.8h0.9M51.2 470.1h0.9M34.3 400.8h0.9M44.0 398.0h0.9M78.2 436.5h0.9M54.7 398.5h0.9M72.6 453.8h0.9M39.8 401.4h0.9M43.4 397.8h0.9M50.9 399.1h0.9M78.1 435.1h0.9M66.8 467.8h0.9M77.6 414.1h0.9M76.4 439.8h0.9M77.9 437.7h0.9M45.8 468.7h0.9M55.4 398.9h0.9M74.5 405.1h0.9M44.0 399.9h0.9M58.0 470.3h0.9M74.3 445.6h0.9M75.7 442.7h0.9M34.4 459.0h0.9M79.0 425.3h0.9M76.0 413.6h0.9M77.1 409.2h0.9M68.2 464.3h0.9M39.1 465.8h0.9M46.8 400.6h0.9M42.7 467.3h0.9M75.5 447.1h0.9M73.6 402.6h0.9M74.7 447.5h0.9M35.3 401.5h0.9M59.6 398.7h0.9M79.1 428.1h0.9M75.9 447.0h0.9M69.4 397.9h0.9M77.2 421.4h0.9M76.5 411.0h0.9M60.9 399.2h0.9M71.8 456.0h0.9M67.5 466.3h0.9M79.0 430.7h0.9M77.7 437.4h0.9M57.6 398.6h0.9M37.5 463.8h0.9M52.6 470.6h0.9M38.8 401.1h0.9M74.8 405.9h0.9M64.8 468.9h0.9M74.0 455.3h0.9M37.7 399.5h0.9M77.2 415.7h0.9M70.5 462.3h0.9M75.4 444.5h0.9M77.0 409.3h0.9M56.9 470.5h0.9M79.0 426.0h0.9M37.1 398.3h0.9M44.1 397.0h0.9M74.5 450.4h0.9M47.2 399.0h0.9M55.6 396.9h0.9M35.1 460.6h0.9M78.5 427.2h0.9M73.2 405.5h0.9M76.2 418.9h0.9M73.3 453.1h0.9M55.1 395.7h0.9M79.2 423.8h0.9M46.0 468.5h0.9M62.6 469.5h0.9M77.1 418.3h0.9M46.4 399.6h0.9M80.0 431.8h0.9M43.6 467.5h0.9M62.9 469.6h0.9M82.7 425.1h0.9M64.4 469.7h0.9M66.4 464.7h0.9M37.1 462.2h0.9M78.2 411.5h0.9M37.3 463.3h0.9M34.6 399.7h0.9M75.3 443.5h0.9M77.2 404.8h0.9M42.5 466.7h0.9M73.6 453.4h0.9M68.7 398.9h0.9M78.4 434.0h0.9M76.0 408.0h0.9M42.2 467.3h0.9M46.8 400.3h0.9M64.1 468.9h0.9M44.6 397.6h0.9M71.6 461.5h0.9M50.5 399.1h0.9M61.8 397.3h0.9M54.9 399.2h0.9M78.2 435.9h0.9M77.9 431.0h0.9M43.6 467.8h0.9M54.8 471.7h0.9M79.6 418.1h0.9M54.5 471.6h0.9M76.4 415.7h0.9M52.2 471.9h0.9M79.1 424.5h0.9M43.1 398.3h0.9M73.0 403.0h0.9M48.0 470.3h0.9M59.7 397.4h0.9M61.1 470.1h0.9M69.2 400.5h0.9M39.7 399.2h0.9M47.9 469.2h0.9M53.1 471.8h0.9M75.0 446.7h0.9M77.0 416.2h0.9M61.9 470.2h0.9M72.0 462.8h0.9M76.3 443.4h0.9M50.9 397.9h0.9M57.3 470.4h0.9M71.8 401.1h0.9M56.8 471.0h0.9M54.1 472.1h0.9M78.6 423.8h0.9M75.5 450.4h0.9M70.9 400.0h0.9M48.1 469.0h0.9M74.7 407.9h0.9M47.8 398.8h0.9M37.9 464.6h0.9M47.2 469.3h0.9M77.9 434.4h0.9M74.8 405.8h0.9M73.3 456.7h0.9M62.7 469.5h0.9M46.5 400.1h0.9M73.4 400.5h0.9M43.7 467.8h0.9M77.2 413.7h0.9M73.7 449.1h0.9M53.0 471.7h0.9M50.6 399.4h0.9M76.5 417.3h0.9M47.1 399.8h0.9M45.1 468.4h0.9M78.2 426.1h0.9M77.6 413.0h0.9M73.8 452.6h0.9M57.8 396.6h0.9M75.2 447.8h0.9M72.7 458.3h0.9M74.3 452.0h0.9M69.4 464.9h0.9M76.1 409.4h0.9M41.7 466.9h0.9M51.6 398.9h0.9M48.5 470.9h0.9M68.8 465.9h0.9M50.7 394.4h0.9M52.6 398.5h0.9M62.4 469.9h0.9M65.5 469.1h0.9M67.6 465.8h0.9M34.9 400.9h0.9M72.6 401.9h0.9M52.3 471.9h0.9M76.0 410.9h0.9M34.5 459.5h0.9M40.0 399.8h0.9M69.7 461.3h0.9M59.7 471.6h0.9M66.9 399.0h0.9M67.3 466.3h0.9M44.1 398.9h0.9M77.9 438.2h0.9M49.7 400.6h0.9M66.3 398.2h0.9M76.8 451.0h0.9M79.9 429.6h0.9M74.9 403.1h0.9M63.3 397.8h0.9M40.3 399.4h0.9M75.9 407.6h0.9M45.0 468.4h0.9M80.3 430.9h0.9M72.5 454.5h0.9M75.8 409.5h0.9M77.4 416.0h0.9M68.2 396.8h0.9M46.9 469.9h0.9M76.5 415.5h0.9M76.0 415.8h0.9M75.6 402.0h0.9M71.9 399.6h0.9M44.9 468.9h0.9M69.6 464.3h0.9M46.8 399.5h0.9M34.5 461.0h0.9M74.6 406.9h0.9M42.1 399.9h0.9M80.4 423.9h0.9M40.1 465.4h0.9M35.7 461.8h0.9M42.4 399.8h0.9M60.9 471.4h0.9M36.8 461.4h0.9M74.7 452.0h0.9M75.8 449.6h0.9M37.3 399.2h0.9M58.1 470.6h0.9M59.8 470.3h0.9M72.8 455.1h0.9M76.1 415.4h0.9M64.8 399.0h0.9M74.0 450.6h0.9M45.5 468.5h0.9M63.3 469.4h0.9M77.1 424.8h0.9M67.5 464.6h0.9M35.9 462.5h0.9M73.6 458.4h0.9M69.8 463.2h0.9M74.3 449.9h0.9M51.3 471.9h0.9M47.6 400.2h0.9M80.7 432.7h0.9M60.0 469.7h0.9M35.5 461.0h0.9M78.3 428.1h0.9M46.9 470.1h0.9M79.2 429.0h0.9M79.0 423.1h0.9M35.5 400.0h0.9M40.6 398.5h0.9M76.1 406.5h0.9M74.9 445.2h0.9M76.7 439.7h0.9M45.1 467.8h0.9M80.0 423.9h0.9M41.6 466.7h0.9M67.0 466.2h0.9M74.1 448.2h0.9M71.2 400.5h0.9M37.2 463.2h0.9M57.0 395.7h0.9M46.8 396.7h0.9M78.5 428.4h0.9M68.7 399.8h0.9M56.0 394.7h0.9M37.4 399.6h0.9M76.4 445.1h0.9M70.3 464.1h0.9M52.8 472.3h0.9M64.9 399.4h0.9M63.0 398.0h0.9M66.1 466.9h0.9M35.4 398.9h0.9M71.5 460.3h0.9M36.2 398.6h0.9M78.2 431.3h0.9M47.1 400.1h0.9M52.3 472.2h0.9M54.3 470.9h0.9M57.0 473.7h0.9M74.5 457.0h0.9M59.4 398.7h0.9M42.1 466.8h0.9M76.9 410.0h0.9M77.7 431.3h0.9M76.2 437.1h0.9M66.0 465.8h0.9M73.9 451.4h0.9M74.9 447.9h0.9M59.3 398.3h0.9M43.0 399.7h0.9M78.0 430.9h0.9M37.3 463.1h0.9M79.1 430.4h0.9M78.1 425.7h0.9M54.1 398.9h0.9M73.8 455.3h0.9M73.3 456.8h0.9M57.8 398.1h0.9M49.2 472.7h0.9M73.8 453.5h0.9M43.2 467.4h0.9M52.3 470.5h0.9M52.3 397.0h0.9M58.6 471.4h0.9M60.5 472.0h0.9M75.2 448.2h0.9M47.8 399.3h0.9M77.7 432.7h0.9M80.6 427.8h0.9M49.8 398.1h0.9M54.5 471.4h0.9M76.6 433.7h0.9M70.8 462.5h0.9M46.7 400.3h0.9M71.0 460.1h0.9M54.7 470.9h0.9M46.1 398.2h0.9M38.4 401.9h0.9M39.8 464.6h0.9M58.1 398.3h0.9M45.0 397.7h0.9M75.2 444.4h0.9M42.6 400.3h0.9M77.9 419.9h0.9M76.7 417.1h0.9M77.3 416.8h0.9M73.4 457.5h0.9M76.1 408.8h0.9M45.8 469.4h0.9M72.7 456.4h0.9M77.0 414.1h0.9M43.7 399.7h0.9M44.1 467.3h0.9M75.9 410.7h0.9M46.0 400.5h0.9M41.3 398.8h0.9M43.6 467.2h0.9M74.7 447.4h0.9M73.6 450.0h0.9M34.5 460.5h0.9M68.4 465.6h0.9M44.4 469.1h0.9M73.4 451.9h0.9M64.9 399.0h0.9M62.3 471.0h0.9M74.6 446.1h0.9M73.0 404.1h0.9M58.3 472.2h0.9M65.2 468.9h0.9M75.9 405.4h0.9M75.8 446.3h0.9M71.0 461.8h0.9M54.7 472.0h0.9M57.8 470.7h0.9M74.8 442.9h0.9M35.1 460.4h0.9M57.1 398.8h0.9M75.5 404.1h0.9M61.4 399.9h0.9M74.2 407.3h0.9M47.1 399.2h0.9M64.5 469.0h0.9M77.0 434.7h0.9M47.4 470.1h0.9M42.6 467.2h0.9M75.1 441.3h0.9M74.7 450.3h0.9M66.4 467.6h0.9M55.3 472.3h0.9M45.6 397.7h0.9M75.6 445.4h0.9M79.0 421.2h0.9M74.5 447.1h0.9M76.5 415.8h0.9M71.6 398.8h0.9M79.8 423.1h0.9M73.1 454.4h0.9M76.7 436.2h0.9M78.6 423.2h0.9M76.2 438.1h0.9M59.5 470.3h0.9M65.4 468.6h0.9M79.0 422.4h0.9M78.3 418.3h0.9M41.3 467.0h0.9M77.5 432.4h0.9M38.4 397.8h0.9M62.7 400.6h0.9M69.7 463.6h0.9M76.3 417.2h0.9M75.8 445.1h0.9M71.9 456.2h0.9M64.5 470.7h0.9M67.6 465.4h0.9M77.4 422.7h0.9M60.9 399.9h0.9M64.9 468.6h0.9M65.8 468.8h0.9M55.4 472.1h0.9M59.4 469.7h0.9M67.6 399.5h0.9M68.8 396.3h0.9M77.6 435.2h0.9M35.3 461.6h0.9M76.7 435.8h0.9M76.9 421.4h0.9M57.8 396.8h0.9M62.5 396.6h0.9M77.1 409.5h0.9M44.4 468.1h0.9M55.7 471.5h0.9M73.0 405.8h0.9M64.3 399.0h0.9M57.1 470.4h0.9M47.9 398.9h0.9M49.0 399.9h0.9M73.8 454.3h0.9M72.7 458.9h0.9M63.4 398.5h0.9M78.5 423.6h0.9M48.9 398.1h0.9M55.6 471.1h0.9M73.9 402.7h0.9M36.5 400.9h0.9M68.8 463.1h0.9M78.4 430.6h0.9M46.7 468.6h0.9M76.9 420.5h0.9M61.6 399.8h0.9M73.5 457.1h0.9M80.2 430.1h0.9M41.9 465.3h0.9M65.7 399.1h0.9M77.6 445.0h0.9M66.0 396.9h0.9M34.8 463.2h0.9M36.7 462.9h0.9M77.6 441.8h0.9M49.8 396.4h0.9M80.4 432.1h0.9M80.7 429.9h0.9M77.5 443.8h0.9M74.7 447.4h0.9M78.9 424.5h0.9M74.9 455.6h0.9M73.8 403.3h0.9M75.7 411.6h0.9M51.2 398.9h0.9M78.8 425.3h0.9M49.3 472.4h0.9M68.7 465.8h0.9M75.1 406.3h0.9M56.5 469.8h0.9M77.0 436.0h0.9M72.9 404.6h0.9M64.4 395.8h0.9M61.8 399.3h0.9M39.0 466.5h0.9M78.2 420.7h0.9M51.0 400.1h0.9M70.6 397.3h0.9M44.7 468.2h0.9M56.8 397.7h0.9M76.2 415.3h0.9M73.9 402.9h0.9M68.1 400.9h0.9M74.3 449.8h0.9M81.0 434.7h0.9M80.1 433.0h0.9M41.5 465.8h0.9M76.9 400.5h0.9M59.9 390.3h0.9M72.1 397.1h0.9M38.0 462.3h0.9M79.3 424.6h0.9M61.3 470.8h0.9M53.2 472.5h0.9M35.9 462.4h0.9M54.2 471.1h0.9M51.3 396.6h0.9M48.8 394.0h0.9M47.7 471.0h0.9M74.1 458.0h0.9M65.2 468.5h0.9M62.0 398.0h0.9M77.4 409.3h0.9M71.0 461.5h0.9M46.4 392.1h0.9M47.5 469.5h0.9M46.3 394.2h0.9M76.2 441.2h0.9M38.1 463.8h0.9M77.0 438.8h0.9M55.0 472.8h0.9M55.3 473.0h0.9M79.4 425.4h0.9M58.4 397.1h0.9M37.4 464.0h0.9M53.7 472.6h0.9M76.3 448.8h0.9M53.3 472.1h0.9M35.6 462.6h0.9M82.3 414.3h0.9M35.2 459.9h0.9M56.6 472.2h0.9M60.0 399.8h0.9M63.2 469.4h0.9M37.6 466.1h0.9M67.0 466.5h0.9M78.8 424.5h0.9M41.8 400.0h0.9M72.9 401.7h0.9M78.0 416.5h0.9M68.1 466.8h0.9M80.0 424.3h0.9M76.0 450.7h0.9M45.5 398.0h0.9M79.9 435.8h0.9M47.5 469.2h0.9M66.7 467.9h0.9M47.0 471.1h0.9M83.9 426.5h0.9M43.2 468.3h0.9M78.2 435.1h0.9M77.7 446.3h0.9M76.2 448.9h0.9M79.2 426.8h0.9M50.6 398.4h0.9M64.0 397.5h0.9M46.9 468.6h0.9M73.1 404.2h0.9M79.3 436.9h0.9M39.7 396.4h0.9M73.2 398.2h0.9M78.9 436.6h0.9M77.3 440.2h0.9M76.5 410.3h0.9M76.9 447.4h0.9M77.7 445.7h0.9M71.4 466.8h0.9M51.1 399.6h0.9M63.7 470.0h0.9M79.8 438.2h0.9M45.2 468.7h0.9M52.5 471.0h0.9M74.6 406.6h0.9M34.7 464.7h0.9M56.2 399.2h0.9M76.3 445.9h0.9M68.7 465.5h0.9M74.0 450.9h0.9M77.7 440.9h0.9M49.2 470.4h0.9M42.7 393.2h0.9M58.7 471.3h0.9M60.2 470.9h0.9M76.5 445.4h0.9M48.1 397.6h0.9M86.4 432.3h0.9M63.8 471.5h0.9M63.2 398.1h0.9M80.7 428.2h0.9M58.2 400.2h0.9M42.9 398.6h0.9M82.0 405.6h0.9M83.4 420.7h0.9M71.9 459.0h0.9M79.8 450.9h0.9M80.5 414.2h0.9M74.0 457.7h0.9M68.2 396.0h0.9M81.3 431.6h0.9M56.7 391.9h0.9M69.6 462.0h0.9M70.8 459.7h0.9M76.4 461.2h0.9M77.1 401.9h0.9M56.2 469.9h0.9M75.4 440.6h0.9M78.5 438.9h0.9M74.9 440.8h0.9M48.2 395.2h0.9M79.0 423.0h0.9M50.1 473.3h0.9M60.4 472.0h0.9M38.2 465.4h0.9M74.1 457.2h0.9M76.4 400.8h0.9M70.0 400.0h0.9M55.0 473.3h0.9M78.6 411.4h0.9M77.5 440.4h0.9M43.7 469.8h0.9M79.0 423.1h0.9M74.6 402.9h0.9M82.0 428.1h0.9M77.7 423.7h0.9M73.0 401.9h0.9M78.2 441.2h0.9M42.9 468.1h0.9M78.8 405.4h0.9M82.0 425.1h0.9M73.8 457.2h0.9M61.0 472.6h0.9M61.8 399.0h0.9M41.3 466.2h0.9M76.8 403.5h0.9M74.2 447.7h0.9M79.4 430.8h0.9M74.3 449.0h0.9M76.3 444.3h0.9M82.1 398.5h0.9M48.1 399.8h0.9M40.7 466.9h0.9M73.4 455.8h0.9M64.0 398.2h0.9M35.6 397.6h0.9M45.0 471.6h0.9M71.1 459.8h0.9M70.8 400.9h0.9M63.1 392.4h0.9M57.0 390.3h0.9M75.7 444.0h0.9M56.8 472.5h0.9M74.2 457.5h0.9M78.7 437.3h0.9M68.3 466.9h0.9M34.7 462.6h0.9M36.8 460.9h0.9M80.1 419.5h0.9M57.1 396.7h0.9M80.3 421.5h0.9M73.4 397.4h0.9M45.9 397.9h0.9M78.5 418.8h0.9M75.6 409.8h0.9M76.8 400.8h0.9M65.8 467.4h0.9M64.9 470.2h0.9M76.3 443.7h0.9M75.4 449.8h0.9M56.2 398.0h0.9M83.1 435.1h0.9M80.4 415.9h0.9M40.4 467.5h0.9M79.1 415.5h0.9M78.1 448.1h0.9M44.6 467.7h0.9M53.7 399.7h0.9M76.1 409.5h0.9M42.6 385.8h0.9M53.2 397.5h0.9M71.1 458.9h0.9M56.8 471.8h0.9M77.1 448.6h0.9M46.9 399.4h0.9M76.0 415.3h0.9M55.8 393.4h0.9M75.8 406.2h0.9M35.7 462.3h0.9M80.5 420.6h0.9M37.9 394.2h0.9M77.6 439.3h0.9M36.0 463.0h0.9M66.8 466.6h0.9M36.0 401.3h0.9M82.4 424.6h0.9M46.2 469.2h0.9M72.2 466.3h0.9M73.6 450.5h0.9M46.5 469.0h0.9M60.6 392.5h0.9M79.0 418.5h0.9M41.0 392.1h0.9M75.7 412.2h0.9M78.2 422.7h0.9M45.4 398.1h0.9M63.7 397.5h0.9M79.4 430.8h0.9M41.7 466.9h0.9M78.9 410.3h0.9M73.3 459.7h0.9M78.9 402.8h0.9M64.8 470.9h0.9M73.6 452.6h0.9M77.0 422.7h0.9M74.2 405.0h0.9M51.4 471.0h0.9M43.1 467.3h0.9M77.7 418.8h0.9M67.0 468.3h0.9M84.4 426.5h0.9M43.7 398.4h0.9M40.3 468.2h0.9M59.0 472.4h0.9M73.0 395.7h0.9M71.1 399.4h0.9M80.4 438.6h0.9M63.1 470.4h0.9M77.7 424.8h0.9M80.3 419.1h0.9M56.4 395.4h0.9M78.7 406.5h0.9M73.6 462.3h0.9M78.4 438.9h0.9M61.7 396.7h0.9M40.5 397.8h0.9M68.0 466.4h0.9M35.0 462.7h0.9M71.9 463.9h0.9M56.7 399.3h0.9M50.5 393.7h0.9M40.1 465.3h0.9M40.7 468.4h0.9M75.7 462.4h0.9M73.9 403.3h0.9M42.7 391.3h0.9M65.2 398.5h0.9M77.0 411.4h0.9M72.5 459.0h0.9M47.6 397.3h0.9M78.8 430.8h0.9M71.4 459.6h0.9M59.7 393.4h0.9M74.3 404.3h0.9M35.9 400.5h0.9M77.2 437.3h0.9M63.2 471.1h0.9M71.3 459.1h0.9M44.0 468.0h0.9M66.6 398.5h0.9M78.6 428.7h0.9M76.3 442.4h0.9M78.3 432.4h0.9M74.0 403.2h0.9M70.8 399.9h0.9M45.9 395.3h0.9M73.8 403.0h0.9M70.9 399.5h0.9M63.2 397.2h0.9M42.3 468.3h0.9M62.7 471.5h0.9M64.1 398.4h0.9M76.2 410.8h0.9M40.2 466.0h0.9M48.6 470.5h0.9M46.9 397.5h0.9M76.7 402.4h0.9M80.2 417.7h0.9M41.3 399.7h0.9M80.6 425.5h0.9M44.4 394.1h0.9M57.1 471.2h0.9M74.1 405.6h0.9M36.3 463.7h0.9M74.4 447.6h0.9M59.8 396.7h0.9M52.1 472.0h0.9M38.8 393.8h0.9M49.6 397.7h0.9M71.1 465.7h0.9M81.2 422.4h0.9M72.1 398.8h0.9M77.1 453.0h0.9M71.9 399.9h0.9M74.7 451.2h0.9M79.9 435.4h0.9M35.2 392.0h0.9M74.2 454.4h0.9M36.4 462.4h0.9M75.5 442.3h0.9M52.0 473.3h0.9M59.4 396.3h0.9M75.8 450.2h0.9M67.7 466.4h0.9M77.4 455.2h0.9M64.5 394.4h0.9M56.4 473.7h0.9M73.7 457.8h0.9M59.8 399.1h0.9M52.9 397.2h0.9M45.6 469.2h0.9M75.5 450.8h0.9M35.1 461.8h0.9M76.7 435.8h0.9M37.9 466.8h0.9M73.9 455.8h0.9M76.0 450.1h0.9M78.3 419.5h0.9M46.8 468.6h0.9M52.5 471.1h0.9M46.9 471.0h0.9M66.9 400.6h0.9M76.3 441.0h0.9M54.6 472.8h0.9M77.6 412.8h0.9M71.1 460.8h0.9M77.7 411.5h0.9M78.6 433.5h0.9M77.1 446.2h0.9M55.5 473.0h0.9M44.8 467.7h0.9M72.8 401.5h0.9M80.4 415.4h0.9M48.9 399.8h0.9M36.3 397.5h0.9M81.8 418.4h0.9M76.6 449.2h0.9M62.8 394.9h0.9M77.2 408.0h0.9M43.9 467.9h0.9M60.8 397.9h0.9M76.9 411.9h0.9M52.1 472.0h0.9M67.0 466.2h0.9M44.8 395.0h0.9M82.2 416.3h0.9M73.2 403.0h0.9M81.2 413.9h0.9M38.3 400.8h0.9M47.3 469.3h0.9M62.1 471.6h0.9M77.9 427.4h0.9M41.1 468.9h0.9M79.7 429.3h0.9M53.1 470.7h0.9M37.1 399.0h0.9M58.2 471.0h0.9M76.4 452.1h0.9M60.4 471.4h0.9M34.8 465.2h0.9M77.6 410.4h0.9M37.2 399.5h0.9M66.7 396.1h0.9M77.0 451.6h0.9M51.8 389.8h0.9M75.6 454.4h0.9M78.1 435.1h0.9M53.3 395.7h0.9M76.0 452.8h0.9M77.9 406.5h0.9M55.2 395.4h0.9M38.3 400.7h0.9M62.5 469.9h0.9M75.1 454.8h0.9M53.6 394.9h0.9M64.1 469.9h0.9M74.8 450.9h0.9M68.7 464.0h0.9M79.4 436.8h0.9M78.0 412.1h0.9M80.1 409.3h0.9M73.6 452.7h0.9M63.8 396.8h0.9M37.2 463.6h0.9M63.8 469.2h0.9M50.5 397.2h0.9M58.4 398.2h0.9M42.7 466.9h0.9M75.5 403.7h0.9M50.9 394.8h0.9M66.2 467.0h0.9M71.2 464.3h0.9M37.6 465.9h0.9M63.7 470.0h0.9M76.8 411.2h0.9M76.6 436.5h0.9M76.1 406.2h0.9M69.0 400.6h0.9M61.4 471.3h0.9M69.2 463.7h0.9M66.2 469.4h0.9M50.0 470.3h0.9M70.5 463.0h0.9M40.0 398.7h0.9M65.5 399.2h0.9M65.7 468.5h0.9M64.0 470.6h0.9M79.0 415.6h0.9M74.9 442.0h0.9M75.6 447.5h0.9M59.9 397.0h0.9M68.6 465.7h0.9M57.4 473.5h0.9M75.2 407.1h0.9M81.4 439.5h0.9M79.3 426.5h0.9M79.5 434.3h0.9M40.6 399.5h0.9M75.8 444.9h0.9M46.7 469.2h0.9M79.7 417.4h0.9M45.0 392.3h0.9M61.6 397.6h0.9M44.8 469.9h0.9M37.7 465.7h0.9M82.3 423.4h0.9M43.6 471.2h0.9M77.5 419.2h0.9M58.1 397.1h0.9M70.3 399.6h0.9M73.9 403.4h0.9M78.8 431.4h0.9M66.7 468.7h0.9M77.9 435.9h0.9M76.7 443.2h0.9M79.4 439.7h0.9M51.4 472.0h0.9M80.2 425.0h0.9M51.1 473.3h0.9M52.0 399.1h0.9M61.6 470.6h0.9M80.4 419.0h0.9M59.3 395.7h0.9M47.2 468.8h0.9M81.0 430.0h0.9M45.6 468.4h0.9M48.9 472.0h0.9M76.8 441.5h0.9M44.8 470.7h0.9M73.4 456.2h0.9M51.9 395.3h0.9M62.0 469.5h0.9M54.9 471.4h0.9M51.0 394.8h0.9M76.4 442.9h0.9M82.1 434.9h0.9M53.4 472.5h0.9M40.2 397.4h0.9M75.4 446.6h0.9M70.2 466.1h0.9M65.7 468.6h0.9M51.2 472.0h0.9M75.1 441.9h0.9M56.9 470.5h0.9M71.0 458.2h0.9M47.5 471.2h0.9M69.6 400.0h0.9M43.1 467.0h0.9M78.3 405.4h0.9M51.2 469.9h0.9M41.3 466.9h0.9M50.9 472.7h0.9M37.8 464.4h0.9M74.9 401.0h0.9M41.1 466.7h0.9M73.0 463.9h0.9M81.3 437.2h0.9M38.0 398.3h0.9M46.2 398.3h0.9M78.1 435.9h0.9M75.4 446.7h0.9M77.5 439.4h0.9M82.2 410.6h0.9M42.5 397.2h0.9M45.9 470.2h0.9M34.5 395.5h0.9M42.2 467.2h0.9M81.8 424.6h0.9M63.5 470.6h0.9M37.5 464.1h0.9M56.1 393.1h0.9M81.2 428.2h0.9M70.4 466.7h0.9M43.5 468.5h0.9M76.6 436.0h0.9M75.0 458.1h0.9M74.1 454.0h0.9M67.6 467.9h0.9M81.5 422.7h0.9M75.3 446.0h0.9M40.0 468.6h0.9M61.6 396.6h0.9M53.6 471.2h0.9M40.9 466.5h0.9M75.6 411.5h0.9M77.0 411.4h0.9M75.2 456.0h0.9M77.7 402.4h0.9M75.7 408.2h0.9M81.9 432.6h0.9M48.1 399.6h0.9M69.1 395.6h0.9M75.3 445.3h0.9M55.9 472.9h0.9M64.3 393.9h0.9M48.7 469.6h0.9M56.7 473.7h0.9M76.5 442.2h0.9M44.7 398.8h0.9M54.8 470.8h0.9M43.4 393.5h0.9M69.2 399.5h0.9M55.8 471.9h0.9M42.7 469.5h0.9M56.2 397.0h0.9M76.9 437.4h0.9M45.5 391.5h0.9M36.7 465.6h0.9M48.8 397.4h0.9M43.6 399.3h0.9M64.9 470.4h0.9M54.0 396.5h0.9M40.1 467.5h0.9M75.4 407.4h0.9M39.6 465.8h0.9M80.8 438.9h0.9M68.1 400.8h0.9M74.6 447.4h0.9M82.5 436.4h0.9M58.5 473.4h0.9M49.8 471.3h0.9M81.3 433.0h0.9M75.2 446.5h0.9M47.5 469.8h0.9M78.7 428.2h0.9M78.7 417.4h0.9M45.7 398.9h0.9M75.3 406.8h0.9M72.8 457.0h0.9M77.3 409.9h0.9M77.7 429.8h0.9M51.7 395.5h0.9M80.0 427.7h0.9M68.4 396.5h0.9M76.6 443.9h0.9M63.9 471.2h0.9M75.2 446.0h0.9M73.8 403.5h0.9M82.1 431.1h0.9M59.8 470.8h0.9M37.1 399.1h0.9M39.1 465.6h0.9M54.4 395.6h0.9M64.1 395.7h0.9M44.4 384.1h0.9M77.2 403.4h0.9M56.4 470.8h0.9M75.1 449.1h0.9M72.4 462.7h0.9M74.4 404.8h0.9M72.8 453.8h0.9M73.8 455.3h0.9M77.5 460.7h0.9M79.4 414.9h0.9M81.5 401.2h0.9M64.5 471.4h0.9M71.4 466.0h0.9M73.1 457.8h0.9M61.5 400.0h0.9M69.3 467.9h0.9M83.9 445.5h0.9M69.7 463.0h0.9M40.8 394.2h0.9M35.4 396.2h0.9M78.8 429.7h0.9M72.0 403.5h0.9M73.3 405.8h0.9M55.8 389.2h0.9M75.8 447.5h0.9M37.0 465.6h0.9M69.8 392.8h0.9M75.4 443.3h0.9M77.1 413.9h0.9M54.6 394.6h0.9M87.0 433.3h0.9M92.3 424.1h0.9M56.9 472.5h0.9M84.6 419.5h0.9M77.9 423.4h0.9M82.0 453.4h0.9M83.3 433.8h0.9M81.9 442.0h0.9M78.7 426.7h0.9M75.5 454.4h0.9M75.9 414.8h0.9M41.9 466.8h0.9M77.7 401.6h0.9M42.5 393.4h0.9M52.6 389.6h0.9M76.6 415.5h0.9M64.1 396.9h0.9M80.0 425.8h0.9M40.6 468.9h0.9M42.9 469.4h0.9M76.5 443.8h0.9M84.3 396.6h0.9M78.9 447.5h0.9M73.5 395.6h0.9M77.8 454.9h0.9M79.4 425.1h0.9M69.5 466.2h0.9M68.8 471.6h0.9M89.0 418.9h0.9M72.7 398.2h0.9M69.8 392.5h0.9M75.1 442.1h0.9M38.3 465.7h0.9M47.7 399.8h0.9M65.1 393.6h0.9M73.7 461.0h0.9M53.2 393.2h0.9M62.7 471.5h0.9M82.0 420.7h0.9M41.1 394.4h0.9M59.7 391.5h0.9M36.8 395.7h0.9M53.0 471.6h0.9M52.7 392.7h0.9M62.4 391.5h0.9M35.2 464.0h0.9M47.5 471.3h0.9M75.6 402.0h0.9M79.8 439.8h0.9M55.2 473.5h0.9M34.5 461.0h0.9M78.4 401.3h0.9M55.7 470.7h0.9M80.9 409.6h0.9M73.4 457.1h0.9M65.3 470.8h0.9M82.4 435.6h0.9M76.8 451.4h0.9M78.0 437.2h0.9M55.4 396.8h0.9M34.3 460.2h0.9M80.6 400.9h0.9M81.7 413.6h0.9M43.7 469.3h0.9M40.5 469.2h0.9M50.5 398.2h0.9M73.8 402.7h0.9M79.3 437.4h0.9M66.9 466.6h0.9M35.7 395.1h0.9M77.2 456.7h0.9M77.0 411.4h0.9M80.1 440.9h0.9M75.2 446.8h0.9M77.3 438.5h0.9M74.6 395.1h0.9M82.5 409.4h0.9M41.0 470.0h0.9M64.4 399.4h0.9M52.9 392.1h0.9M64.3 469.4h0.9M78.1 447.5h0.9M52.1 398.6h0.9M40.6 471.4h0.9M79.0 418.0h0.9M73.7 454.5h0.9M77.2 412.7h0.9M39.1 396.1h0.9M75.7 440.1h0.9M77.2 457.1h0.9M73.9 456.5h0.9M83.3 426.9h0.9M59.7 472.6h0.9M87.1 433.8h0.9M42.3 393.1h0.9M84.5 440.8h0.9M42.7 472.2h0.9M69.4 463.0h0.9M70.9 470.0h0.9M79.3 453.1h0.9M43.3 470.6h0.9M75.3 449.1h0.9M78.8 444.6h0.9M47.3 470.4h0.9M81.3 413.1h0.9M34.7 463.8h0.9M42.9 393.7h0.9M81.0 406.2h0.9M90.5 413.0h0.9M76.3 438.9h0.9M67.4 464.3h0.9M40.9 395.7h0.9M75.9 405.6h0.9M82.1 434.1h0.9M59.8 470.3h0.9M46.6 470.6h0.9M71.8 394.9h0.9M63.6 400.3h0.9M51.6 398.0h0.9M84.1 423.6h0.9M45.0 467.7h0.9M61.0 394.6h0.9M69.0 397.2h0.9M49.8 393.3h0.9M77.0 405.7h0.9M59.5 399.2h0.9M46.8 471.9h0.9M72.3 405.0h0.9M76.2 392.8h0.9M79.1 413.7h0.9M78.8 419.7h0.9M88.8 420.0h0.9M79.0 404.9h0.9M38.2 467.1h0.9M63.3 399.4h0.9M71.7 397.9h0.9M83.8 417.9h0.9M84.8 443.8h0.9M61.0 400.1h0.9M76.5 445.0h0.9M35.1 463.6h0.9M75.3 410.0h0.9M34.5 396.8h0.9M74.1 457.3h0.9M55.8 385.0h0.9M36.3 397.0h0.9M38.7 470.8h0.9M44.5 473.6h0.9M85.5 413.5h0.9M77.9 434.7h0.9M70.1 468.6h0.9M50.4 471.3h0.9M78.7 411.3h0.9M61.2 471.4h0.9M76.8 417.2h0.9M71.5 465.2h0.9M35.6 393.3h0.9M68.1 466.0h0.9M79.8 421.2h0.9M53.6 392.3h0.9M56.1 399.3h0.9M77.4 457.2h0.9M49.8 392.7h0.9M82.6 431.1h0.9M84.7 411.0h0.9M54.6 397.2h0.9M81.6 399.3h0.9M82.7 440.3h0.9M78.5 427.0h0.9M89.0 407.5h0.9M57.3 395.7h0.9M64.1 396.0h0.9M44.2 399.9h0.9M38.6 472.9h0.9M44.3 386.7h0.9M36.7 462.9h0.9M72.2 462.7h0.9M67.7 397.7h0.9M75.0 402.4h0.9M54.8 470.9h0.9M77.3 443.9h0.9M57.5 391.4h0.9M76.6 442.4h0.9M79.6 431.7h0.9M78.4 406.1h0.9M77.1 425.3h0.9M80.9 406.0h0.9M86.4 435.4h0.9M70.5 395.5h0.9M46.8 395.9h0.9M79.1 419.1h0.9M73.8 461.3h0.9M58.6 391.7h0.9M79.7 421.4h0.9M79.0 449.8h0.9M69.9 467.8h0.9M57.6 472.0h0.9M77.1 418.0h0.9M78.9 427.2h0.9M45.8 399.2h0.9M38.6 466.3h0.9M70.7 463.8h0.9M68.2 467.4h0.9M50.5 471.7h0.9M75.3 461.9h0.9M53.2 472.0h0.9M79.0 440.1h0.9M55.4 397.4h0.9M83.1 403.1h0.9M70.4 467.7h0.9M66.6 399.4h0.9M46.5 398.0h0.9M77.3 420.6h0.9M83.7 427.5h0.9M75.4 460.0h0.9M73.8 389.0h0.9M74.8 449.7h0.9M73.9 453.3h0.9M78.1 414.2h0.9M82.9 427.3h0.9M44.9 471.3h0.9M57.3 399.7h0.9M37.8 467.8h0.9M48.5 471.2h0.9M78.1 410.6h0.9M78.3 434.7h0.9M78.4 450.1h0.9M49.4 397.8h0.9M78.0 429.6h0.9M76.8 411.5h0.9M79.5 417.2h0.9M58.0 397.2h0.9M41.0 397.1h0.9M59.1 395.6h0.9M35.7 399.6h0.9M56.9 391.3h0.9M70.1 399.9h0.9M74.2 452.0h0.9M36.0 462.0h0.9M72.9 465.6h0.9M82.8 410.5h0.9M57.3 471.8h0.9M88.4 411.4h0.9M72.1 462.1h0.9M53.9 472.3h0.9M78.8 450.0h0.9M72.4 462.3h0.9M80.8 434.7h0.9M42.1 395.1h0.9M86.3 423.5h0.9M80.2 441.2h0.9M85.6 432.9h0.9M58.5 472.5h0.9M75.1 403.0h0.9M96.5 401.3h0.9M98.2 401.4h0.9M97.2 400.4h0.9M97.7 400.3h0.9M97.7 401.7h0.9M96.5 401.2h0.9M96.7 401.1h0.9M96.4 400.9h0.9M96.7 401.4h0.9M97.8 401.8h0.9" stroke="#000" stroke-width="0.9" fill="none"/>
<path d="M34.1 457.7h0.9M38.8 470.9h0.9M35.9 457.1h0.9M38.0 468.5h0.9M36.0 465.3h0.9M37.0 459.5h0.9M33.9 457.2h0.9M34.7 456.2h0.9M36.9 467.7h0.9M35.6 457.7h0.9M40.5 466.6h0.9M35.9 467.5h0.9M36.3 459.8h0.9M34.3 455.4h0.9M38.7 467.8h0.9M34.5 455.7h0.9M35.6 466.2h0.9M34.7 469.6h0.9M35.6 464.1h0.9M36.5 469.2h0.9M34.1 469.3h0.9M38.1 462.3h0.9M34.6 470.8h0.9M34.0 455.7h0.9M37.1 463.6h0.9M39.6 467.5h0.9M35.4 465.2h0.9M36.1 467.8h0.9M35.8 461.8h0.9M37.0 455.5h0.9M34.0 453.0h0.9M35.1 446.9h0.9M35.6 454.7h0.9M34.7 445.0h0.9M34.9 415.1h0.9M34.9 439.9h0.9M34.6 440.9h0.9M34.3 454.0h0.9M34.9 408.9h0.9M35.2 452.4h0.9M34.2 430.0h0.9M34.1 434.8h0.9M34.2 418.5h0.9M35.8 426.1h0.9M35.4 416.2h0.9" stroke="#fff" stroke-width="0.9" fill="none"/>
<rect x="33.7" y="377.5" width="99.99999999999999" height="97.0" fill="none" stroke="#555" stroke-width="1"/>
<rect x="88.6" y="382.4" width="39.4" height="37" fill="none" stroke="#aaa" stroke-width="0.9"/>
<path d="M112.5 441.7h6M121 441.7h3" stroke="#666" stroke-width="0.9"/>
<path d="M33.4 308.2v1.8M39.6 308.2v1.8M45.9 308.2v1.8M52.1 308.2v1.8M58.4 308.2v1.8M64.7 308.2v1.8M70.9 308.2v1.8M77.2 308.2v1.8M83.4 308.2v1.8M89.7 308.2v1.8M95.9 308.2v1.8M102.2 308.2v1.8M108.4 308.2v1.8M114.7 308.2v1.8M120.9 308.2v1.8M127.2 308.2v1.8M133.4 308.2v1.8M32.199999999999996 307.0h-1.8M32.199999999999996 300.8h-1.8M32.199999999999996 294.5h-1.8M32.199999999999996 288.2h-1.8M32.199999999999996 282.0h-1.8M32.199999999999996 275.8h-1.8M32.199999999999996 269.5h-1.8M32.199999999999996 263.2h-1.8M32.199999999999996 257.0h-1.8M32.199999999999996 250.8h-1.8M32.199999999999996 244.5h-1.8M32.199999999999996 238.2h-1.8M32.199999999999996 232.0h-1.8M32.199999999999996 225.8h-1.8M32.199999999999996 219.5h-1.8M32.199999999999996 213.2h-1.8M32.199999999999996 207.0h-1.8" stroke="#ccc" stroke-width="0.7"/>
<path d="M33.7 475.7v1.8M40.0 475.7v1.8M46.2 475.7v1.8M52.5 475.7v1.8M58.7 475.7v1.8M65.0 475.7v1.8M71.2 475.7v1.8M77.5 475.7v1.8M83.7 475.7v1.8M90.0 475.7v1.8M96.2 475.7v1.8M102.5 475.7v1.8M108.7 475.7v1.8M115.0 475.7v1.8M121.2 475.7v1.8M127.5 475.7v1.8M133.7 475.7v1.8M32.5 474.5h-1.8M32.5 468.2h-1.8M32.5 462.0h-1.8M32.5 455.8h-1.8M32.5 449.5h-1.8M32.5 443.2h-1.8M32.5 437.0h-1.8M32.5 430.8h-1.8M32.5 424.5h-1.8M32.5 418.2h-1.8M32.5 412.0h-1.8M32.5 405.8h-1.8M32.5 399.5h-1.8M32.5 393.2h-1.8M32.5 387.0h-1.8M32.5 380.8h-1.8" stroke="#ccc" stroke-width="0.7"/>
<path d="M181.3 143V471" stroke="#000" stroke-width="2.6"/>
<path d="M181.3 128.5L186.6 143.6H176.0Z" fill="#000"/>
<path d="M215.3 30.4H347.4" fill="none" stroke="#333" stroke-width="1"/>
<path d="M347.4 30.4V126.3" fill="none" stroke="#444" stroke-width="0.9"/>
<path d="M215.3 126.3H347.4" fill="none" stroke="#222" stroke-width="1.2"/>
<path d="M215.3 29.9V126.8" fill="none" stroke="#000" stroke-width="1.4"/>
<path d="M215.3 126.8v2.4M223.6 126.8v1.4M231.8 126.8v1.4M240.1 126.8v1.4M248.3 126.8v2.4M256.6 126.8v1.4M264.8 126.8v1.4M273.1 126.8v1.4M281.4 126.8v2.4M289.6 126.8v1.4M297.9 126.8v1.4M306.1 126.8v1.4M314.4 126.8v2.4M322.6 126.8v1.4M330.9 126.8v1.4M339.1 126.8v1.4M347.4 126.8v2.4M215.3 78.3h-2M215.3 30.4h-2" stroke="#bbb" stroke-width="0.7"/>
<path d="M247.10 125.9V125.90H247.78V121.92H249.12V117.01H251.48V108.68H253.50V104.58H254.84V91.00H256.19V83.32H257.53V85.79H258.88V79.01H260.43V73.65H262.11V81.99H263.59V77.43H264.94V94.55H266.28V91.95H267.97V99.66H269.65V108.55H271.20V104.66H272.88V116.47H274.56V113.71H276.24V117.85H277.92V117.71H279.61V113.74H281.42V120.54H283.58V117.03H285.60V121.82H288.15V121.89H291.18V117.02H293.54V121.92H295.56V117.14H297.24V121.89H298.05V125.90H298.31V125.9Z" fill="#000"/>
<path d="M253.36 125.9V125.90H253.63V117.44H254.30V119.40H255.52V115.78H256.86V117.79H258.21V113.46H259.42V115.98H260.43V114.17H261.57V103.54H262.92V105.33H263.93V115.62H264.94V117.36H266.28V115.19H267.63V117.57H268.97V116.88H270.32V119.02H272.00V118.58H274.02V120.58H275.70V120.09H277.72V121.79H281.09V123.17H283.24V125.90H283.51V125.9Z" fill="#808080"/>
<path d="M262.5 123.9V104M263.5 123.9V108" stroke="#fff" stroke-width="0.9"/>
<path d="M378.5 30.2H511.7" fill="none" stroke="#777" stroke-width="1"/>
<path d="M511.7 30.2V125.8" fill="none" stroke="#5a5a5a" stroke-width="0.9"/>
<path d="M378.5 125.8H511.7" fill="none" stroke="#555" stroke-width="1.0"/>
<path d="M378.5 29.7V126.3" fill="none" stroke="#000" stroke-width="1.4"/>
<path d="M378.5 126.3v2.4M386.8 126.3v1.4M395.1 126.3v1.4M403.5 126.3v1.4M411.8 126.3v2.4M420.1 126.3v1.4M428.4 126.3v1.4M436.8 126.3v1.4M445.1 126.3v2.4M453.4 126.3v1.4M461.8 126.3v1.4M470.1 126.3v1.4M478.4 126.3v2.4M486.7 126.3v1.4M495.0 126.3v1.4M503.4 126.3v1.4M511.7 126.3v2.4M378.5 78.0h-2M378.5 30.2h-2" stroke="#bbb" stroke-width="0.7"/>
<rect x="408.40" y="117.40" width="1.40" height="7.80" fill="#808080"/><rect x="409.80" y="117.40" width="2.20" height="7.80" fill="#000"/><rect x="412.00" y="109.60" width="1.10" height="15.60" fill="#000"/><rect x="413.10" y="86.20" width="0.90" height="39.00" fill="#333"/><rect x="414.00" y="109.60" width="1.70" height="15.60" fill="#000"/><rect x="415.70" y="94.00" width="1.50" height="31.20" fill="#000"/><rect x="417.20" y="78.40" width="1.20" height="46.80" fill="#444"/><rect x="418.40" y="94.00" width="2.40" height="31.20" fill="#000"/><rect x="420.80" y="70.60" width="2.20" height="54.60" fill="#000"/><rect x="423.00" y="78.40" width="2.20" height="46.80" fill="#000"/><rect x="425.20" y="62.80" width="1.10" height="62.40" fill="#000"/><rect x="426.30" y="78.40" width="1.80" height="46.80" fill="#000"/><rect x="428.10" y="86.20" width="2.20" height="39.00" fill="#000"/><rect x="430.30" y="62.80" width="1.20" height="62.40" fill="#000"/><rect x="431.50" y="94.00" width="1.70" height="31.20" fill="#000"/><rect x="433.20" y="70.60" width="1.20" height="54.60" fill="#000"/><rect x="434.40" y="86.20" width="4.00" height="39.00" fill="#000"/><rect x="438.40" y="62.80" width="1.10" height="62.40" fill="#000"/><rect x="439.50" y="94.00" width="1.80" height="31.20" fill="#000"/><rect x="441.30" y="78.40" width="1.30" height="46.80" fill="#808080"/><rect x="442.60" y="94.00" width="3.10" height="31.20" fill="#000"/><rect x="445.70" y="78.40" width="1.30" height="46.80" fill="#808080"/><rect x="447.00" y="101.80" width="3.60" height="23.40" fill="#808080"/><rect x="450.60" y="94.00" width="1.50" height="31.20" fill="#808080"/><rect x="444.80" y="109.60" width="7.30" height="15.60" fill="#000"/><rect x="453.50" y="94.00" width="1.50" height="31.20" fill="#000"/><rect x="455.00" y="101.80" width="2.90" height="23.40" fill="#808080"/><rect x="457.90" y="94.00" width="1.20" height="31.20" fill="#000"/><rect x="459.10" y="101.80" width="3.90" height="23.40" fill="#808080"/><rect x="452.10" y="101.80" width="1.40" height="23.40" fill="#808080"/><rect x="463.00" y="109.60" width="1.50" height="15.60" fill="#000"/><rect x="464.50" y="109.60" width="1.50" height="15.60" fill="#808080"/><rect x="466.00" y="109.60" width="1.00" height="15.60" fill="#000"/><rect x="467.90" y="109.60" width="1.00" height="15.60" fill="#000"/><rect x="468.90" y="117.40" width="1.50" height="7.80" fill="#000"/><rect x="471.20" y="117.40" width="1.60" height="7.80" fill="#000"/><rect x="473.50" y="117.40" width="1.10" height="7.80" fill="#000"/><rect x="475.30" y="117.40" width="1.60" height="7.80" fill="#000"/><rect x="428.10" y="117.40" width="36.40" height="7.80" fill="#808080"/>
<rect x="419.40" y="110.38" width="1.90" height="13.65" fill="#fff"/>
<rect x="423.20" y="117.79" width="1.80" height="6.24" fill="#fff"/>
<rect x="426.00" y="117.79" width="1.40" height="6.24" fill="#fff"/>
<rect x="413.30" y="113.50" width="0.50" height="10.53" fill="#fff"/>
<rect x="416.60" y="117.40" width="0.60" height="6.63" fill="#ddd"/>
<rect x="422.30" y="100.24" width="0.60" height="16.38" fill="#555"/>
<rect x="427.50" y="100.24" width="0.60" height="16.38" fill="#555"/>
<rect x="431.80" y="100.24" width="0.60" height="16.38" fill="#555"/>
<rect x="436.20" y="100.24" width="0.60" height="16.38" fill="#555"/>
<rect x="440.30" y="100.24" width="0.60" height="16.38" fill="#555"/>
<path d="M430.0 125.2V117.4M433.5 125.2V117.4M437.0 125.2V117.4M441.8 125.2V117.4M446.0 125.2V117.4M451.0 125.2V117.4M456.5 125.2V117.4M461.0 125.2V117.4" stroke="#222" stroke-width="0.7"/>
<path d="M214.8 207.9H348" fill="none" stroke="#777" stroke-width="1"/>
<path d="M348 207.9V303.5" fill="none" stroke="#5a5a5a" stroke-width="0.9"/>
<path d="M214.8 303.5H348" fill="none" stroke="#555" stroke-width="1.0"/>
<path d="M214.8 207.4V304.0" fill="none" stroke="#000" stroke-width="1.4"/>
<path d="M214.8 304.0v2.4M223.1 304.0v1.4M231.5 304.0v1.4M239.8 304.0v1.4M248.1 304.0v2.4M256.4 304.0v1.4M264.8 304.0v1.4M273.1 304.0v1.4M281.4 304.0v2.4M289.7 304.0v1.4M298.1 304.0v1.4M306.4 304.0v1.4M314.7 304.0v2.4M323.0 304.0v1.4M331.4 304.0v1.4M339.7 304.0v1.4M348.0 304.0v2.4M214.8 255.7h-2M214.8 207.9h-2" stroke="#bbb" stroke-width="0.7"/>
<path d="M240.92 303.4V303.31H241.29V297.80H241.66V303.31H243.98V303.31H246.30V294.16H247.60V297.68H249.65V290.55H251.51V286.75H253.36V268.11H254.76V277.29H255.87V261.79H257.26V245.86H258.29V224.42H258.94V248.46H260.33V252.86H262.00V242.21H263.30V264.04H264.70V268.65H266.18V277.75H267.57V275.11H268.69V290.19H270.08V294.83H271.75V303.31H273.24V303.4Z" fill="#000"/>
<rect x="272.20" y="295.00" width="1.10" height="8.40" fill="#000"/><rect x="275.50" y="295.00" width="1.60" height="8.40" fill="#000"/><rect x="279.20" y="295.00" width="1.60" height="8.40" fill="#000"/><rect x="281.40" y="295.00" width="1.60" height="8.40" fill="#000"/><rect x="283.50" y="295.00" width="3.80" height="8.40" fill="#000"/><rect x="285.10" y="290.80" width="0.80" height="12.60" fill="#000"/><rect x="287.30" y="290.80" width="1.60" height="12.60" fill="#000"/><rect x="290.50" y="295.00" width="2.20" height="8.40" fill="#000"/><rect x="294.80" y="290.80" width="1.10" height="12.60" fill="#000"/><rect x="296.70" y="295.00" width="1.00" height="8.40" fill="#000"/><rect x="272.00" y="299.20" width="30.90" height="4.20" fill="#000"/><rect x="306.10" y="299.20" width="4.30" height="4.20" fill="#808080"/>
<rect x="274.00" y="299.41" width="0.55" height="3.57" fill="#fff"/>
<rect x="277.80" y="299.41" width="0.55" height="3.57" fill="#fff"/>
<rect x="280.90" y="299.41" width="0.55" height="3.57" fill="#fff"/>
<rect x="284.60" y="299.41" width="0.55" height="3.57" fill="#fff"/>
<rect x="286.30" y="299.41" width="0.55" height="3.57" fill="#fff"/>
<rect x="289.40" y="299.41" width="0.55" height="3.57" fill="#fff"/>
<rect x="308.00" y="299.41" width="0.60" height="3.57" fill="#fff"/>
<path d="M250.39 303.4V303.31H250.76V297.76H254.48V294.03H258.94V290.35H262.65V290.08H266.37V294.07H269.62V295.95H272.13V303.31H272.50V303.4Z" fill="#808080"/>
<path d="M256.2 301.9V292.2M258.0 299.4V290.3" stroke="#fff" stroke-width="1.2"/>
<path d="M378.5 208.5H511.7" fill="none" stroke="#777" stroke-width="1"/>
<path d="M511.7 208.5V304.1" fill="none" stroke="#5a5a5a" stroke-width="0.9"/>
<path d="M378.5 304.1H511.7" fill="none" stroke="#555" stroke-width="1.0"/>
<path d="M378.5 208.0V304.6" fill="none" stroke="#000" stroke-width="1.4"/>
<path d="M378.5 304.6v2.4M386.8 304.6v1.4M395.1 304.6v1.4M403.5 304.6v1.4M411.8 304.6v2.4M420.1 304.6v1.4M428.4 304.6v1.4M436.8 304.6v1.4M445.1 304.6v2.4M453.4 304.6v1.4M461.8 304.6v1.4M470.1 304.6v1.4M478.4 304.6v2.4M486.7 304.6v1.4M495.0 304.6v1.4M503.4 304.6v1.4M511.7 304.6v2.4M378.5 256.3h-2M378.5 208.5h-2" stroke="#bbb" stroke-width="0.7"/>
<rect x="415.10" y="295.83" width="1.00" height="7.97" fill="#000"/><rect x="419.10" y="295.83" width="40.60" height="7.97" fill="#000"/><rect x="419.90" y="287.86" width="1.10" height="15.94" fill="#000"/><rect x="426.10" y="287.86" width="0.90" height="15.94" fill="#000"/><rect x="428.30" y="287.86" width="1.00" height="15.94" fill="#000"/><rect x="431.90" y="287.86" width="1.20" height="15.94" fill="#000"/><rect x="442.50" y="287.86" width="0.90" height="15.94" fill="#000"/><rect x="444.40" y="287.86" width="0.90" height="15.94" fill="#000"/><rect x="447.30" y="287.86" width="1.40" height="15.94" fill="#000"/><rect x="450.90" y="287.86" width="1.50" height="15.94" fill="#000"/><rect x="454.60" y="287.86" width="2.20" height="15.94" fill="#000"/><rect x="453.10" y="279.89" width="0.90" height="23.91" fill="#000"/><rect x="452.00" y="287.86" width="7.30" height="15.94" fill="#000"/><rect x="459.30" y="279.89" width="1.50" height="23.91" fill="#000"/><rect x="460.00" y="271.92" width="0.90" height="31.88" fill="#808080"/><rect x="460.80" y="279.89" width="1.40" height="23.91" fill="#000"/><rect x="462.20" y="263.95" width="1.40" height="39.85" fill="#808080"/><rect x="463.60" y="279.89" width="1.60" height="23.91" fill="#000"/><rect x="465.20" y="279.89" width="1.40" height="23.91" fill="#808080"/><rect x="466.60" y="279.89" width="1.20" height="23.91" fill="#000"/><rect x="467.80" y="263.95" width="1.00" height="39.85" fill="#808080"/><rect x="468.80" y="271.92" width="8.10" height="31.88" fill="#000"/><rect x="470.30" y="255.98" width="1.10" height="47.82" fill="#808080"/><rect x="473.20" y="240.04" width="1.40" height="63.76" fill="#000"/><rect x="476.90" y="263.95" width="1.40" height="39.85" fill="#808080"/><rect x="478.30" y="271.92" width="5.10" height="31.88" fill="#000"/><rect x="479.00" y="263.95" width="2.20" height="39.85" fill="#444"/><rect x="482.00" y="248.01" width="1.40" height="55.79" fill="#808080"/><rect x="483.40" y="279.89" width="2.50" height="23.91" fill="#000"/><rect x="485.90" y="263.95" width="1.50" height="39.85" fill="#000"/><rect x="487.40" y="271.92" width="0.70" height="31.88" fill="#000"/><rect x="488.10" y="287.86" width="2.60" height="15.94" fill="#000"/><rect x="490.70" y="295.83" width="5.20" height="7.97" fill="#000"/>
<rect x="421.10" y="295.83" width="0.60" height="6.77" fill="#fff"/>
<rect x="423.90" y="295.83" width="0.60" height="6.77" fill="#fff"/>
<rect x="430.20" y="295.83" width="0.60" height="6.77" fill="#fff"/>
<rect x="436.00" y="295.83" width="0.60" height="6.77" fill="#fff"/>
<rect x="439.30" y="295.83" width="0.60" height="6.77" fill="#fff"/>
<rect x="446.20" y="295.83" width="0.60" height="6.77" fill="#fff"/>
<rect x="449.60" y="295.83" width="0.60" height="6.77" fill="#fff"/>
<rect x="459.50" y="296.23" width="27.50" height="6.62" fill="#bbb"/>
<path d="M460.3 303.8V295.8M462.0 303.8V295.8M464.8 303.8V295.8M467.0 303.8V295.8M468.5 303.8V295.8M471.5 303.8V295.8M474.0 303.8V295.8M477.5 303.8V295.8M480.0 303.8V295.8M482.5 303.8V295.8M485.0 303.8V295.8M486.5 303.8V295.8" stroke="#111" stroke-width="1.1"/>
<path d="M461.2 303.0V296.3M466.0 303.0V296.3M470.2 303.0V296.3M473.0 303.0V296.3M476.0 303.0V296.3M479.0 303.0V296.3M483.8 303.0V296.3" stroke="#fff" stroke-width="0.9"/>
<rect x="477.20" y="280.69" width="0.80" height="7.17" fill="#ddd"/>
<rect x="455.00" y="288.66" width="0.50" height="13.95" fill="#fff"/>
<rect x="457.20" y="288.66" width="0.50" height="13.95" fill="#fff"/>
<rect x="458.60" y="288.66" width="0.50" height="13.95" fill="#fff"/>
<rect x="484.30" y="283.08" width="0.80" height="12.75" fill="#eee"/>
<path d="M214.8 380.7H348" fill="none" stroke="#777" stroke-width="1"/>
<path d="M348 380.7V476.3" fill="none" stroke="#5a5a5a" stroke-width="0.9"/>
<path d="M214.8 476.3H348" fill="none" stroke="#555" stroke-width="1.0"/>
<path d="M214.8 380.2V476.8" fill="none" stroke="#000" stroke-width="1.4"/>
<path d="M214.8 476.8v2.4M223.1 476.8v1.4M231.5 476.8v1.4M239.8 476.8v1.4M248.1 476.8v2.4M256.4 476.8v1.4M264.8 476.8v1.4M273.1 476.8v1.4M281.4 476.8v2.4M289.7 476.8v1.4M298.1 476.8v1.4M306.4 476.8v1.4M314.7 476.8v2.4M323.0 476.8v1.4M331.4 476.8v1.4M339.7 476.8v1.4M348.0 476.8v2.4M214.8 428.5h-2M214.8 380.7h-2" stroke="#bbb" stroke-width="0.7"/>
<path d="M242.52 475.4V475.40H242.91V469.26H243.39V469.22H243.88V462.54H244.36V469.15H245.14V469.25H245.81V475.40H247.56V475.40H249.30V469.18H252.40V469.16H255.50V463.41H257.44V463.50H259.37V456.45H259.95V456.55H260.73V450.21H261.60V456.61H262.37V456.74H262.86V450.13H264.51V449.70H266.15V443.99H269.54V444.45H272.83V444.20H273.32V435.98H274.19V444.38H274.87V444.29H275.35V435.76H276.03V430.59H276.80V422.90H277.87V392.84H279.32V412.48H280.48V431.07H281.16V436.92H282.42V437.34H283.68V443.85H285.13V444.32H286.49V456.83H287.94V456.62H289.39V463.56H290.36V463.37H291.33V469.27H294.72V469.29H298.11V475.40H299.85V475.40H301.50V469.23H301.89V469.28H302.27V475.40H302.47V475.4Z" fill="#000"/>
<path d="M258.99 475.4V475.40H259.37V469.31H261.31V469.27H263.25V461.45H263.73V461.36H264.51V437.66H265.57V461.65H267.02V461.64H268.38V429.87H269.44V461.54H272.83V461.40H275.84V469.22H284.07V469.21H292.30V475.40H292.69V475.4Z" fill="#808080"/>
<path d="M276.6 473.9V457.6" stroke="#fff" stroke-width="1.8"/>
<path d="M261.1 475.4V465.3M266.9 475.4V465.3M272.7 475.4V465.3M281.5 475.4V465.3M284.7 475.4V465.3M288.2 475.4V465.3M290.6 475.4V465.3" stroke="#000" stroke-width="1"/>
<path d="M378.5 380.3H511.7" fill="none" stroke="#777" stroke-width="1"/>
<path d="M511.7 380.3V475.6" fill="none" stroke="#5a5a5a" stroke-width="0.9"/>
<path d="M378.5 475.6H511.7" fill="none" stroke="#555" stroke-width="1.0"/>
<path d="M378.5 379.8V476.1" fill="none" stroke="#000" stroke-width="1.4"/>
<path d="M378.5 476.1v2.4M386.8 476.1v1.4M395.1 476.1v1.4M403.5 476.1v1.4M411.8 476.1v2.4M420.1 476.1v1.4M428.4 476.1v1.4M436.8 476.1v1.4M445.1 476.1v2.4M453.4 476.1v1.4M461.8 476.1v1.4M470.1 476.1v1.4M478.4 476.1v2.4M486.7 476.1v1.4M495.0 476.1v1.4M503.4 476.1v1.4M511.7 476.1v2.4M378.5 428.0h-2M378.5 380.3h-2" stroke="#bbb" stroke-width="0.7"/>
<path d="M408.40 475.4V475.38H408.60V465.77H411.48V465.77H414.37V457.12H414.85V457.12H415.33V446.54H416.77V446.54H418.21V436.92H418.69V436.92H419.17V428.27H420.23V428.27H421.77V417.69H422.92V428.27H424.08V428.27H425.23V417.69H426.29V428.27H426.96V436.92H427.44V436.92H427.83V446.54H428.31V446.54H428.79V457.12H430.23V457.12H431.67V465.77H432.63V465.77H433.60V475.38H433.79V475.4Z" fill="#000"/>
<path d="M438.21 475.4V475.38H438.40V465.77H439.37V465.77H440.33V475.38H440.52V475.4Z" fill="#000"/>
<path d="M442.06 475.4V475.38H442.25V465.77H447.06V465.77H451.87V457.12H452.83V457.12H453.88V465.77H454.65V465.77H455.42V457.12H457.44V457.12H459.46V446.54H459.85V446.54H460.62V436.92H461.77V446.54H463.79V446.54H465.42V457.12H466.29V457.12H467.54V428.27H468.69V457.12H469.56V457.12H470.04V446.54H472.06V446.54H473.98V436.92H474.65V436.92H475.81V428.27H476.96V436.92H478.12V436.92H478.79V446.54H480.23V446.54H481.67V457.12H483.12V457.12H484.56V465.77H486.48V465.77H488.40V475.38H488.60V475.4Z" fill="#000"/>
<path d="M468.98 475.4V475.38H469.17V465.77H471.10V465.77H473.02V457.12H474.17V457.12H475.42V465.77H478.12V465.77H480.71V457.12H482.63V457.12H484.56V465.77H486.48V465.77H488.40V475.38H488.60V475.4Z" fill="#808080"/>
<path d="M419.17 436.9V436.92H419.37V428.27H420.62V428.27H421.87V436.92H422.06V436.9Z" fill="#666"/>
<path d="M401.4 475.4V465.8M403.7 475.4V465.8M412.9 475.4V465.8M453.7 475.4V457.1M457.5 475.4V457.1M472.0 475.4V465.8M474.8 475.4V465.8M477.7 475.4V465.8M481.6 475.4V465.8M485.4 475.4V465.8" stroke="#000" stroke-width="1"/>
<path d="M420.0 474.4V466.2M435.4 474.4V466.2M445.0 474.4V466.2" stroke="#fff" stroke-width="2.4"/>
<path d="M410.4 474.4V466.2M417.2 474.4V466.2M424.8 474.4V466.2M429.7 474.4V466.2M447.0 474.4V466.2M450.8 474.4V466.2M462.3 474.4V466.2M466.2 474.4V466.2" stroke="#999" stroke-width="0.8"/>
<text x="35.2" y="23.2" font-size="30" fill="#000" text-anchor="start" transform="translate(35.2 23.2) scale(1.012 1.035) translate(-35.2 -23.2)">A</text>
<text x="28.6" y="197.8" font-size="30" fill="#000" text-anchor="start" transform="translate(28.6 197.8) scale(1.012 1.035) translate(-28.6 -197.8)">B</text>
<text x="31.5" y="368.1" font-size="30" fill="#000" text-anchor="start" transform="translate(31.5 368.1) scale(1.012 1.035) translate(-31.5 -368.1)">C</text>
<text x="211.2" y="23.6" font-size="30" fill="#000" text-anchor="start" transform="translate(211.2 23.6) scale(1.012 1.035) translate(-211.2 -23.6)">D</text>
<text x="376.1" y="24.6" font-size="30" fill="#000" text-anchor="start" transform="translate(376.1 24.6) scale(1.012 1.035) translate(-376.1 -24.6)">E</text>
<text x="214.8" y="198.7" font-size="30" fill="#000" text-anchor="start" transform="translate(214.8 198.7) scale(1.012 1.035) translate(-214.8 -198.7)">F</text>
<text x="375.7" y="199.2" font-size="30" fill="#000" text-anchor="start" transform="translate(375.7 199.2) scale(1.012 1.035) translate(-375.7 -199.2)">G</text>
<text x="214.0" y="370.1" font-size="30" fill="#000" text-anchor="start" transform="translate(214.0 370.1) scale(1.012 1.035) translate(-214.0 -370.1)">H</text>
<text x="377.6" y="369.6" font-size="30" fill="#000" text-anchor="start" transform="translate(377.6 369.6) scale(1.012 1.035) translate(-377.6 -369.6)">I</text>
<text x="93.5" y="157" font-size="18" fill="#000" text-anchor="middle" transform="translate(93.5 157) scale(1.012 1.035) translate(-93.5 -157)">Forward scatter</text>
<text x="82" y="330.7" font-size="18" fill="#000" text-anchor="middle" transform="translate(82 330.7) scale(1.012 1.035) translate(-82 -330.7)">CD19</text>
<text x="83.4" y="502.1" font-size="18" fill="#000" text-anchor="middle" transform="translate(83.4 502.1) scale(1.012 1.035) translate(-83.4 -502.1)">rTT.C</text>
<text x="282.6" y="153.3" font-size="18" fill="#000" text-anchor="middle" transform="translate(282.6 153.3) scale(1.012 1.035) translate(-282.6 -153.3)">Forward scatter</text>
<text x="444.8" y="154.1" font-size="18" fill="#000" text-anchor="middle" transform="translate(444.8 154.1) scale(1.012 1.035) translate(-444.8 -154.1)">HLA-DR</text>
<text x="277.4" y="330.8" font-size="18" fill="#000" text-anchor="middle" transform="translate(277.4 330.8) scale(1.012 1.035) translate(-277.4 -330.8)">CD20</text>
<text x="443.8" y="331.4" font-size="18" fill="#000" text-anchor="middle" transform="translate(443.8 331.4) scale(1.012 1.035) translate(-443.8 -331.4)">CD38</text>
<text x="275.7" y="502" font-size="18" fill="#000" text-anchor="middle" transform="translate(275.7 502) scale(1.012 1.035) translate(-275.7 -502)">CD95</text>
<text x="449.2" y="499.8" font-size="18" fill="#000" text-anchor="middle" transform="translate(449.2 499.8) scale(1.012 1.035) translate(-449.2 -499.8)">intracellular IgG</text>
<text x="15.9" y="82.3" font-size="18" fill="#000" text-anchor="middle" transform="translate(15.9 82.3) rotate(-90) scale(1.012 1.035) translate(-15.9 -82.3)">Side scatter</text>
<text x="23.5" y="252.9" font-size="18" fill="#000" text-anchor="middle" transform="translate(23.5 252.9) rotate(-90) scale(1.012 1.035) translate(-23.5 -252.9)">CD27</text>
<text x="23.5" y="425.1" font-size="18" fill="#000" text-anchor="middle" transform="translate(23.5 425.1) rotate(-90) scale(1.012 1.035) translate(-23.5 -425.1)">CD27</text>
<text x="188.8" y="76.2" font-size="18" fill="#000" text-anchor="middle" transform="translate(188.8 76.2) rotate(-90) scale(1.012 1.035) translate(-188.8 -76.2)">Cell count</text>
<text x="221" y="49.5" font-size="18" fill="#000" text-anchor="start" transform="translate(221 49.5) scale(1.012 1.035) translate(-221 -49.5)">365</text>
<text x="341.3" y="48.5" font-size="18" fill="#808080" text-anchor="end" transform="translate(341.3 48.5) scale(1.012 1.035) translate(-341.3 -48.5)">385</text>
<text x="387" y="48" font-size="18" fill="#000" text-anchor="start" transform="translate(387 48) scale(1.012 1.035) translate(-387 -48)">49</text>
<text x="505.5" y="48" font-size="18" fill="#808080" text-anchor="end" transform="translate(505.5 48) scale(1.012 1.035) translate(-505.5 -48)">126</text>
<text x="222.5" y="229" font-size="18" fill="#000" text-anchor="start" transform="translate(222.5 229) scale(1.012 1.035) translate(-222.5 -229)">29</text>
<text x="338.9" y="228" font-size="18" fill="#808080" text-anchor="end" transform="translate(338.9 228) scale(1.012 1.035) translate(-338.9 -228)">29</text>
<text x="385.4" y="227.4" font-size="18" fill="#000" text-anchor="start" transform="translate(385.4 227.4) scale(1.012 1.035) translate(-385.4 -227.4)">519</text>
<text x="505.5" y="228.5" font-size="18" fill="#808080" text-anchor="end" transform="translate(505.5 228.5) scale(1.012 1.035) translate(-505.5 -228.5)">983</text>
<text x="222" y="401.8" font-size="18" fill="#000" text-anchor="start" transform="translate(222 401.8) scale(1.012 1.035) translate(-222 -401.8)">63</text>
<text x="337.9" y="400.3" font-size="18" fill="#808080" text-anchor="end" transform="translate(337.9 400.3) scale(1.012 1.035) translate(-337.9 -400.3)">42</text>
<text x="384.5" y="400.3" font-size="18" fill="#000" text-anchor="start" transform="translate(384.5 400.3) scale(1.012 1.035) translate(-384.5 -400.3)">125</text>
<text x="503.4" y="400.3" font-size="18" fill="#808080" text-anchor="end" transform="translate(503.4 400.3) scale(1.012 1.035) translate(-503.4 -400.3)">764</text>
</svg>
</body></html>
